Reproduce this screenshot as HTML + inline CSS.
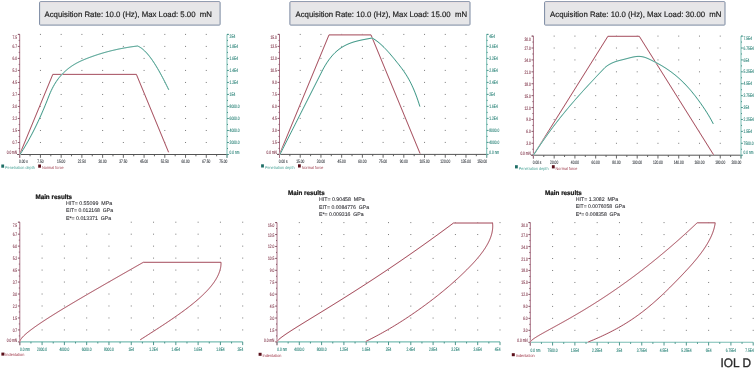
<!DOCTYPE html>
<html><head><meta charset="utf-8"><title>IOL D</title>
<style>html,body{margin:0;padding:0;background:#fff;width:755px;height:368px;overflow:hidden}svg{display:block}</style>
</head><body>
<svg width="755" height="368" viewBox="0 0 755 368" font-family="'Liberation Sans', sans-serif" text-rendering="geometricPrecision">
<rect width="755" height="368" fill="#ffffff"/>
<rect x="39.60" y="1.7" width="180.50" height="23.4" rx="0.8" fill="#e6e6e8" stroke="#7a88a0" stroke-width="1"/>
<line x1="40.60" y1="2.7" x2="219.10" y2="2.7" stroke="#f2e4e4" stroke-width="0.8"/>
<text x="44.50" y="17.00" font-size="7.9" fill="#222" textLength="167.50" lengthAdjust="spacingAndGlyphs" style="white-space:pre" stroke="#222" stroke-width="0.18">Acquisition Rate: 10.0 (Hz), Max Load: 5.00  mN</text>
<rect x="289.90" y="1.7" width="180.10" height="23.4" rx="0.8" fill="#e6e6e8" stroke="#7a88a0" stroke-width="1"/>
<line x1="290.90" y1="2.7" x2="469.00" y2="2.7" stroke="#f2e4e4" stroke-width="0.8"/>
<text x="295.50" y="17.00" font-size="7.9" fill="#222" textLength="171.60" lengthAdjust="spacingAndGlyphs" style="white-space:pre" stroke="#222" stroke-width="0.18">Acquisition Rate: 10.0 (Hz), Max Load: 15.00  mN</text>
<rect x="544.60" y="1.7" width="180.40" height="23.4" rx="0.8" fill="#e6e6e8" stroke="#7a88a0" stroke-width="1"/>
<line x1="545.60" y1="2.7" x2="724.00" y2="2.7" stroke="#f2e4e4" stroke-width="0.8"/>
<text x="550.10" y="17.00" font-size="7.9" fill="#222" textLength="171.40" lengthAdjust="spacingAndGlyphs" style="white-space:pre" stroke="#222" stroke-width="0.18">Acquisition Rate: 10.0 (Hz), Max Load: 30.00  mN</text>
<rect x="39.93" y="33.90" width="1" height="1" fill="#7a7a7a"/>
<rect x="39.93" y="45.91" width="1" height="1" fill="#7a7a7a"/>
<rect x="39.93" y="57.92" width="1" height="1" fill="#7a7a7a"/>
<rect x="39.93" y="69.93" width="1" height="1" fill="#7a7a7a"/>
<rect x="39.93" y="81.94" width="1" height="1" fill="#7a7a7a"/>
<rect x="39.93" y="93.95" width="1" height="1" fill="#7a7a7a"/>
<rect x="39.93" y="105.96" width="1" height="1" fill="#7a7a7a"/>
<rect x="39.93" y="117.97" width="1" height="1" fill="#7a7a7a"/>
<rect x="39.93" y="129.98" width="1" height="1" fill="#7a7a7a"/>
<rect x="39.93" y="141.99" width="1" height="1" fill="#7a7a7a"/>
<rect x="60.66" y="33.90" width="1" height="1" fill="#7a7a7a"/>
<rect x="60.66" y="45.91" width="1" height="1" fill="#7a7a7a"/>
<rect x="60.66" y="57.92" width="1" height="1" fill="#7a7a7a"/>
<rect x="60.66" y="69.93" width="1" height="1" fill="#7a7a7a"/>
<rect x="60.66" y="81.94" width="1" height="1" fill="#7a7a7a"/>
<rect x="60.66" y="93.95" width="1" height="1" fill="#7a7a7a"/>
<rect x="60.66" y="105.96" width="1" height="1" fill="#7a7a7a"/>
<rect x="60.66" y="117.97" width="1" height="1" fill="#7a7a7a"/>
<rect x="60.66" y="129.98" width="1" height="1" fill="#7a7a7a"/>
<rect x="60.66" y="141.99" width="1" height="1" fill="#7a7a7a"/>
<rect x="81.39" y="33.90" width="1" height="1" fill="#7a7a7a"/>
<rect x="81.39" y="45.91" width="1" height="1" fill="#7a7a7a"/>
<rect x="81.39" y="57.92" width="1" height="1" fill="#7a7a7a"/>
<rect x="81.39" y="69.93" width="1" height="1" fill="#7a7a7a"/>
<rect x="81.39" y="81.94" width="1" height="1" fill="#7a7a7a"/>
<rect x="81.39" y="93.95" width="1" height="1" fill="#7a7a7a"/>
<rect x="81.39" y="105.96" width="1" height="1" fill="#7a7a7a"/>
<rect x="81.39" y="117.97" width="1" height="1" fill="#7a7a7a"/>
<rect x="81.39" y="129.98" width="1" height="1" fill="#7a7a7a"/>
<rect x="81.39" y="141.99" width="1" height="1" fill="#7a7a7a"/>
<rect x="102.12" y="33.90" width="1" height="1" fill="#7a7a7a"/>
<rect x="102.12" y="45.91" width="1" height="1" fill="#7a7a7a"/>
<rect x="102.12" y="57.92" width="1" height="1" fill="#7a7a7a"/>
<rect x="102.12" y="69.93" width="1" height="1" fill="#7a7a7a"/>
<rect x="102.12" y="81.94" width="1" height="1" fill="#7a7a7a"/>
<rect x="102.12" y="93.95" width="1" height="1" fill="#7a7a7a"/>
<rect x="102.12" y="105.96" width="1" height="1" fill="#7a7a7a"/>
<rect x="102.12" y="117.97" width="1" height="1" fill="#7a7a7a"/>
<rect x="102.12" y="129.98" width="1" height="1" fill="#7a7a7a"/>
<rect x="102.12" y="141.99" width="1" height="1" fill="#7a7a7a"/>
<rect x="122.85" y="33.90" width="1" height="1" fill="#7a7a7a"/>
<rect x="122.85" y="45.91" width="1" height="1" fill="#7a7a7a"/>
<rect x="122.85" y="57.92" width="1" height="1" fill="#7a7a7a"/>
<rect x="122.85" y="69.93" width="1" height="1" fill="#7a7a7a"/>
<rect x="122.85" y="81.94" width="1" height="1" fill="#7a7a7a"/>
<rect x="122.85" y="93.95" width="1" height="1" fill="#7a7a7a"/>
<rect x="122.85" y="105.96" width="1" height="1" fill="#7a7a7a"/>
<rect x="122.85" y="117.97" width="1" height="1" fill="#7a7a7a"/>
<rect x="122.85" y="129.98" width="1" height="1" fill="#7a7a7a"/>
<rect x="122.85" y="141.99" width="1" height="1" fill="#7a7a7a"/>
<rect x="143.58" y="33.90" width="1" height="1" fill="#7a7a7a"/>
<rect x="143.58" y="45.91" width="1" height="1" fill="#7a7a7a"/>
<rect x="143.58" y="57.92" width="1" height="1" fill="#7a7a7a"/>
<rect x="143.58" y="69.93" width="1" height="1" fill="#7a7a7a"/>
<rect x="143.58" y="81.94" width="1" height="1" fill="#7a7a7a"/>
<rect x="143.58" y="93.95" width="1" height="1" fill="#7a7a7a"/>
<rect x="143.58" y="105.96" width="1" height="1" fill="#7a7a7a"/>
<rect x="143.58" y="117.97" width="1" height="1" fill="#7a7a7a"/>
<rect x="143.58" y="129.98" width="1" height="1" fill="#7a7a7a"/>
<rect x="143.58" y="141.99" width="1" height="1" fill="#7a7a7a"/>
<rect x="164.31" y="33.90" width="1" height="1" fill="#7a7a7a"/>
<rect x="164.31" y="45.91" width="1" height="1" fill="#7a7a7a"/>
<rect x="164.31" y="57.92" width="1" height="1" fill="#7a7a7a"/>
<rect x="164.31" y="69.93" width="1" height="1" fill="#7a7a7a"/>
<rect x="164.31" y="81.94" width="1" height="1" fill="#7a7a7a"/>
<rect x="164.31" y="93.95" width="1" height="1" fill="#7a7a7a"/>
<rect x="164.31" y="105.96" width="1" height="1" fill="#7a7a7a"/>
<rect x="164.31" y="117.97" width="1" height="1" fill="#7a7a7a"/>
<rect x="164.31" y="129.98" width="1" height="1" fill="#7a7a7a"/>
<rect x="164.31" y="141.99" width="1" height="1" fill="#7a7a7a"/>
<rect x="185.04" y="33.90" width="1" height="1" fill="#7a7a7a"/>
<rect x="185.04" y="45.91" width="1" height="1" fill="#7a7a7a"/>
<rect x="185.04" y="57.92" width="1" height="1" fill="#7a7a7a"/>
<rect x="185.04" y="69.93" width="1" height="1" fill="#7a7a7a"/>
<rect x="185.04" y="81.94" width="1" height="1" fill="#7a7a7a"/>
<rect x="185.04" y="93.95" width="1" height="1" fill="#7a7a7a"/>
<rect x="185.04" y="105.96" width="1" height="1" fill="#7a7a7a"/>
<rect x="185.04" y="117.97" width="1" height="1" fill="#7a7a7a"/>
<rect x="185.04" y="129.98" width="1" height="1" fill="#7a7a7a"/>
<rect x="185.04" y="141.99" width="1" height="1" fill="#7a7a7a"/>
<rect x="205.77" y="33.90" width="1" height="1" fill="#7a7a7a"/>
<rect x="205.77" y="45.91" width="1" height="1" fill="#7a7a7a"/>
<rect x="205.77" y="57.92" width="1" height="1" fill="#7a7a7a"/>
<rect x="205.77" y="69.93" width="1" height="1" fill="#7a7a7a"/>
<rect x="205.77" y="81.94" width="1" height="1" fill="#7a7a7a"/>
<rect x="205.77" y="93.95" width="1" height="1" fill="#7a7a7a"/>
<rect x="205.77" y="105.96" width="1" height="1" fill="#7a7a7a"/>
<rect x="205.77" y="117.97" width="1" height="1" fill="#7a7a7a"/>
<rect x="205.77" y="129.98" width="1" height="1" fill="#7a7a7a"/>
<rect x="205.77" y="141.99" width="1" height="1" fill="#7a7a7a"/>
<line x1="17.20" y1="154.50" x2="227.00" y2="154.50" stroke="#555555" stroke-width="1"/>
<line x1="19.70" y1="154.50" x2="19.70" y2="157.80" stroke="#555555" stroke-width="0.9"/>
<line x1="30.06" y1="154.50" x2="30.06" y2="156.30" stroke="#555555" stroke-width="0.9"/>
<line x1="40.43" y1="154.50" x2="40.43" y2="157.80" stroke="#555555" stroke-width="0.9"/>
<line x1="50.80" y1="154.50" x2="50.80" y2="156.30" stroke="#555555" stroke-width="0.9"/>
<line x1="61.16" y1="154.50" x2="61.16" y2="157.80" stroke="#555555" stroke-width="0.9"/>
<line x1="71.52" y1="154.50" x2="71.52" y2="156.30" stroke="#555555" stroke-width="0.9"/>
<line x1="81.89" y1="154.50" x2="81.89" y2="157.80" stroke="#555555" stroke-width="0.9"/>
<line x1="92.25" y1="154.50" x2="92.25" y2="156.30" stroke="#555555" stroke-width="0.9"/>
<line x1="102.62" y1="154.50" x2="102.62" y2="157.80" stroke="#555555" stroke-width="0.9"/>
<line x1="112.98" y1="154.50" x2="112.98" y2="156.30" stroke="#555555" stroke-width="0.9"/>
<line x1="123.35" y1="154.50" x2="123.35" y2="157.80" stroke="#555555" stroke-width="0.9"/>
<line x1="133.72" y1="154.50" x2="133.72" y2="156.30" stroke="#555555" stroke-width="0.9"/>
<line x1="144.08" y1="154.50" x2="144.08" y2="157.80" stroke="#555555" stroke-width="0.9"/>
<line x1="154.44" y1="154.50" x2="154.44" y2="156.30" stroke="#555555" stroke-width="0.9"/>
<line x1="164.81" y1="154.50" x2="164.81" y2="157.80" stroke="#555555" stroke-width="0.9"/>
<line x1="175.18" y1="154.50" x2="175.18" y2="156.30" stroke="#555555" stroke-width="0.9"/>
<line x1="185.54" y1="154.50" x2="185.54" y2="157.80" stroke="#555555" stroke-width="0.9"/>
<line x1="195.91" y1="154.50" x2="195.91" y2="156.30" stroke="#555555" stroke-width="0.9"/>
<line x1="206.27" y1="154.50" x2="206.27" y2="157.80" stroke="#555555" stroke-width="0.9"/>
<line x1="216.63" y1="154.50" x2="216.63" y2="156.30" stroke="#555555" stroke-width="0.9"/>
<line x1="227.00" y1="154.50" x2="227.00" y2="157.80" stroke="#555555" stroke-width="0.9"/>
<line x1="19.70" y1="34.40" x2="19.70" y2="157.80" stroke="#a86e82" stroke-width="1"/>
<line x1="18.20" y1="34.40" x2="19.70" y2="34.40" stroke="#a86e82" stroke-width="0.9"/>
<line x1="17.80" y1="34.40" x2="19.70" y2="34.40" stroke="#7a4a5a" stroke-width="0.9"/>
<line x1="18.70" y1="40.41" x2="19.70" y2="40.41" stroke="#7a4a5a" stroke-width="0.9"/>
<line x1="17.80" y1="46.41" x2="19.70" y2="46.41" stroke="#7a4a5a" stroke-width="0.9"/>
<line x1="18.70" y1="52.41" x2="19.70" y2="52.41" stroke="#7a4a5a" stroke-width="0.9"/>
<line x1="17.80" y1="58.42" x2="19.70" y2="58.42" stroke="#7a4a5a" stroke-width="0.9"/>
<line x1="18.70" y1="64.42" x2="19.70" y2="64.42" stroke="#7a4a5a" stroke-width="0.9"/>
<line x1="17.80" y1="70.43" x2="19.70" y2="70.43" stroke="#7a4a5a" stroke-width="0.9"/>
<line x1="18.70" y1="76.44" x2="19.70" y2="76.44" stroke="#7a4a5a" stroke-width="0.9"/>
<line x1="17.80" y1="82.44" x2="19.70" y2="82.44" stroke="#7a4a5a" stroke-width="0.9"/>
<line x1="18.70" y1="88.44" x2="19.70" y2="88.44" stroke="#7a4a5a" stroke-width="0.9"/>
<line x1="17.80" y1="94.45" x2="19.70" y2="94.45" stroke="#7a4a5a" stroke-width="0.9"/>
<line x1="18.70" y1="100.45" x2="19.70" y2="100.45" stroke="#7a4a5a" stroke-width="0.9"/>
<line x1="17.80" y1="106.46" x2="19.70" y2="106.46" stroke="#7a4a5a" stroke-width="0.9"/>
<line x1="18.70" y1="112.47" x2="19.70" y2="112.47" stroke="#7a4a5a" stroke-width="0.9"/>
<line x1="17.80" y1="118.47" x2="19.70" y2="118.47" stroke="#7a4a5a" stroke-width="0.9"/>
<line x1="18.70" y1="124.47" x2="19.70" y2="124.47" stroke="#7a4a5a" stroke-width="0.9"/>
<line x1="17.80" y1="130.48" x2="19.70" y2="130.48" stroke="#7a4a5a" stroke-width="0.9"/>
<line x1="18.70" y1="136.48" x2="19.70" y2="136.48" stroke="#7a4a5a" stroke-width="0.9"/>
<line x1="17.80" y1="142.49" x2="19.70" y2="142.49" stroke="#7a4a5a" stroke-width="0.9"/>
<line x1="18.70" y1="148.50" x2="19.70" y2="148.50" stroke="#7a4a5a" stroke-width="0.9"/>
<line x1="17.80" y1="154.50" x2="19.70" y2="154.50" stroke="#7a4a5a" stroke-width="0.9"/>
<line x1="227.00" y1="34.40" x2="227.00" y2="157.80" stroke="#78bdb3" stroke-width="1"/>
<line x1="227.00" y1="34.40" x2="228.50" y2="34.40" stroke="#78bdb3" stroke-width="0.9"/>
<line x1="227.00" y1="34.40" x2="228.90" y2="34.40" stroke="#3a8a80" stroke-width="0.9"/>
<line x1="227.00" y1="40.41" x2="228.00" y2="40.41" stroke="#3a8a80" stroke-width="0.9"/>
<line x1="227.00" y1="46.41" x2="228.90" y2="46.41" stroke="#3a8a80" stroke-width="0.9"/>
<line x1="227.00" y1="52.41" x2="228.00" y2="52.41" stroke="#3a8a80" stroke-width="0.9"/>
<line x1="227.00" y1="58.42" x2="228.90" y2="58.42" stroke="#3a8a80" stroke-width="0.9"/>
<line x1="227.00" y1="64.42" x2="228.00" y2="64.42" stroke="#3a8a80" stroke-width="0.9"/>
<line x1="227.00" y1="70.43" x2="228.90" y2="70.43" stroke="#3a8a80" stroke-width="0.9"/>
<line x1="227.00" y1="76.44" x2="228.00" y2="76.44" stroke="#3a8a80" stroke-width="0.9"/>
<line x1="227.00" y1="82.44" x2="228.90" y2="82.44" stroke="#3a8a80" stroke-width="0.9"/>
<line x1="227.00" y1="88.44" x2="228.00" y2="88.44" stroke="#3a8a80" stroke-width="0.9"/>
<line x1="227.00" y1="94.45" x2="228.90" y2="94.45" stroke="#3a8a80" stroke-width="0.9"/>
<line x1="227.00" y1="100.45" x2="228.00" y2="100.45" stroke="#3a8a80" stroke-width="0.9"/>
<line x1="227.00" y1="106.46" x2="228.90" y2="106.46" stroke="#3a8a80" stroke-width="0.9"/>
<line x1="227.00" y1="112.47" x2="228.00" y2="112.47" stroke="#3a8a80" stroke-width="0.9"/>
<line x1="227.00" y1="118.47" x2="228.90" y2="118.47" stroke="#3a8a80" stroke-width="0.9"/>
<line x1="227.00" y1="124.47" x2="228.00" y2="124.47" stroke="#3a8a80" stroke-width="0.9"/>
<line x1="227.00" y1="130.48" x2="228.90" y2="130.48" stroke="#3a8a80" stroke-width="0.9"/>
<line x1="227.00" y1="136.48" x2="228.00" y2="136.48" stroke="#3a8a80" stroke-width="0.9"/>
<line x1="227.00" y1="142.49" x2="228.90" y2="142.49" stroke="#3a8a80" stroke-width="0.9"/>
<line x1="227.00" y1="148.50" x2="228.00" y2="148.50" stroke="#3a8a80" stroke-width="0.9"/>
<line x1="227.00" y1="154.50" x2="228.90" y2="154.50" stroke="#3a8a80" stroke-width="0.9"/>
<text x="17.10" y="38.80" font-size="5.0" fill="#80354a" text-anchor="end" textLength="4.55" lengthAdjust="spacingAndGlyphs" stroke="#80354a" stroke-width="0.12">7.5</text>
<text x="17.10" y="48.41" font-size="5.0" fill="#80354a" text-anchor="end" textLength="4.55" lengthAdjust="spacingAndGlyphs" stroke="#80354a" stroke-width="0.12">6.7</text>
<text x="17.10" y="60.42" font-size="5.0" fill="#80354a" text-anchor="end" textLength="4.55" lengthAdjust="spacingAndGlyphs" stroke="#80354a" stroke-width="0.12">6.0</text>
<text x="17.10" y="72.43" font-size="5.0" fill="#80354a" text-anchor="end" textLength="4.55" lengthAdjust="spacingAndGlyphs" stroke="#80354a" stroke-width="0.12">5.2</text>
<text x="17.10" y="84.44" font-size="5.0" fill="#80354a" text-anchor="end" textLength="4.55" lengthAdjust="spacingAndGlyphs" stroke="#80354a" stroke-width="0.12">4.5</text>
<text x="17.10" y="96.45" font-size="5.0" fill="#80354a" text-anchor="end" textLength="4.55" lengthAdjust="spacingAndGlyphs" stroke="#80354a" stroke-width="0.12">3.7</text>
<text x="17.10" y="108.46" font-size="5.0" fill="#80354a" text-anchor="end" textLength="4.55" lengthAdjust="spacingAndGlyphs" stroke="#80354a" stroke-width="0.12">3.0</text>
<text x="17.10" y="120.47" font-size="5.0" fill="#80354a" text-anchor="end" textLength="4.55" lengthAdjust="spacingAndGlyphs" stroke="#80354a" stroke-width="0.12">2.2</text>
<text x="17.10" y="132.48" font-size="5.0" fill="#80354a" text-anchor="end" textLength="4.55" lengthAdjust="spacingAndGlyphs" stroke="#80354a" stroke-width="0.12">1.5</text>
<text x="17.10" y="144.49" font-size="5.0" fill="#80354a" text-anchor="end" textLength="4.55" lengthAdjust="spacingAndGlyphs" stroke="#80354a" stroke-width="0.12">0.7</text>
<text x="17.10" y="154.30" font-size="5.0" fill="#80354a" text-anchor="end" textLength="10.35" lengthAdjust="spacingAndGlyphs" stroke="#80354a" stroke-width="0.12">0.0 mN</text>
<text x="229.60" y="38.40" font-size="5.0" fill="#2a8378" textLength="5.70" lengthAdjust="spacingAndGlyphs" stroke="#2a8378" stroke-width="0.12">2E4</text>
<text x="229.60" y="48.01" font-size="5.0" fill="#2a8378" textLength="8.45" lengthAdjust="spacingAndGlyphs" stroke="#2a8378" stroke-width="0.12">1.8E4</text>
<text x="229.60" y="60.02" font-size="5.0" fill="#2a8378" textLength="8.45" lengthAdjust="spacingAndGlyphs" stroke="#2a8378" stroke-width="0.12">1.6E4</text>
<text x="229.60" y="72.03" font-size="5.0" fill="#2a8378" textLength="8.45" lengthAdjust="spacingAndGlyphs" stroke="#2a8378" stroke-width="0.12">1.4E4</text>
<text x="229.60" y="84.04" font-size="5.0" fill="#2a8378" textLength="8.45" lengthAdjust="spacingAndGlyphs" stroke="#2a8378" stroke-width="0.12">1.2E4</text>
<text x="229.60" y="96.05" font-size="5.0" fill="#2a8378" textLength="5.70" lengthAdjust="spacingAndGlyphs" stroke="#2a8378" stroke-width="0.12">1E4</text>
<text x="229.60" y="108.06" font-size="5.0" fill="#2a8378" textLength="9.95" lengthAdjust="spacingAndGlyphs" stroke="#2a8378" stroke-width="0.12">8000.0</text>
<text x="229.60" y="120.07" font-size="5.0" fill="#2a8378" textLength="9.95" lengthAdjust="spacingAndGlyphs" stroke="#2a8378" stroke-width="0.12">6000.0</text>
<text x="229.60" y="132.08" font-size="5.0" fill="#2a8378" textLength="9.95" lengthAdjust="spacingAndGlyphs" stroke="#2a8378" stroke-width="0.12">4000.0</text>
<text x="229.60" y="144.09" font-size="5.0" fill="#2a8378" textLength="9.95" lengthAdjust="spacingAndGlyphs" stroke="#2a8378" stroke-width="0.12">2000.0</text>
<text x="229.60" y="153.70" font-size="5.0" fill="#2a8378" textLength="9.85" lengthAdjust="spacingAndGlyphs" stroke="#2a8378" stroke-width="0.12">0.0 nm</text>
<text x="19.00" y="163.20" font-size="5.0" fill="#353a40" textLength="8.80" lengthAdjust="spacingAndGlyphs" stroke="#353a40" stroke-width="0.12">0.00 s</text>
<text x="40.43" y="163.20" font-size="5.0" fill="#353a40" text-anchor="middle" textLength="6.35" lengthAdjust="spacingAndGlyphs" stroke="#353a40" stroke-width="0.12">7.50</text>
<text x="61.16" y="163.20" font-size="5.0" fill="#353a40" text-anchor="middle" textLength="8.15" lengthAdjust="spacingAndGlyphs" stroke="#353a40" stroke-width="0.12">15.00</text>
<text x="81.89" y="163.20" font-size="5.0" fill="#353a40" text-anchor="middle" textLength="8.15" lengthAdjust="spacingAndGlyphs" stroke="#353a40" stroke-width="0.12">22.50</text>
<text x="102.62" y="163.20" font-size="5.0" fill="#353a40" text-anchor="middle" textLength="8.15" lengthAdjust="spacingAndGlyphs" stroke="#353a40" stroke-width="0.12">30.00</text>
<text x="123.35" y="163.20" font-size="5.0" fill="#353a40" text-anchor="middle" textLength="8.15" lengthAdjust="spacingAndGlyphs" stroke="#353a40" stroke-width="0.12">37.50</text>
<text x="144.08" y="163.20" font-size="5.0" fill="#353a40" text-anchor="middle" textLength="8.15" lengthAdjust="spacingAndGlyphs" stroke="#353a40" stroke-width="0.12">45.00</text>
<text x="164.81" y="163.20" font-size="5.0" fill="#353a40" text-anchor="middle" textLength="8.15" lengthAdjust="spacingAndGlyphs" stroke="#353a40" stroke-width="0.12">52.50</text>
<text x="185.54" y="163.20" font-size="5.0" fill="#353a40" text-anchor="middle" textLength="8.15" lengthAdjust="spacingAndGlyphs" stroke="#353a40" stroke-width="0.12">60.00</text>
<text x="206.27" y="163.20" font-size="5.0" fill="#353a40" text-anchor="middle" textLength="8.15" lengthAdjust="spacingAndGlyphs" stroke="#353a40" stroke-width="0.12">67.50</text>
<text x="227.40" y="163.20" font-size="5.0" fill="#353a40" text-anchor="end" textLength="8.15" lengthAdjust="spacingAndGlyphs" stroke="#353a40" stroke-width="0.12">75.00</text>
<polyline points="19.70,154.50 52.80,74.40 136.40,74.40 168.60,152.30" fill="none" stroke="#f6e6e9" stroke-width="1.25" stroke-linejoin="miter"/>
<polyline points="19.70,154.50 52.80,74.40 136.40,74.40 168.60,152.30" fill="none" stroke="#9e4454" stroke-width="0.9" stroke-linejoin="miter"/>
<path d="M20.00,154.40 L21.00,152.88 L22.00,151.32 L23.00,149.73 L24.00,148.11 L25.00,146.45 L26.00,144.76 L27.00,143.04 L28.00,141.28 L29.00,139.49 L30.00,137.66 L31.00,135.80 L32.00,133.90 L33.00,131.96 L34.00,129.99 L35.00,127.98 L36.00,125.93 L37.00,123.85 L38.00,121.72 L39.00,119.56 L40.00,117.37 L41.00,115.13 L42.00,112.85 L43.00,110.53 L44.00,108.18 L45.00,105.78 L46.00,103.34 L47.00,100.86 L48.00,98.34 L49.00,95.78 L49.30,95.00 L50.30,92.64 L51.30,90.43 L52.30,88.38 L53.30,86.47 L54.30,84.70 L55.30,83.04 L56.30,81.50 L57.30,80.06 L58.30,78.71 L59.30,77.45 L60.30,76.26 L61.30,75.14 L62.30,74.07 L63.30,73.05 L64.30,72.07 L65.30,71.14 L66.30,70.25 L67.30,69.40 L68.30,68.59 L69.30,67.81 L70.30,67.08 L71.30,66.37 L72.30,65.70 L73.30,65.05 L74.30,64.44 L75.30,63.85 L76.30,63.29 L77.30,62.75 L78.30,62.24 L79.30,61.74 L80.30,61.26 L81.30,60.80 L82.30,60.36 L83.30,59.93 L84.30,59.51 L85.30,59.10 L86.30,58.70 L87.30,58.31 L88.30,57.92 L89.30,57.54 L90.30,57.17 L91.30,56.80 L92.30,56.44 L93.30,56.09 L94.30,55.74 L95.30,55.40 L96.30,55.06 L97.30,54.73 L98.30,54.41 L99.30,54.09 L100.30,53.78 L101.30,53.47 L102.30,53.18 L103.30,52.88 L104.30,52.59 L105.30,52.31 L106.30,52.03 L107.30,51.76 L108.30,51.50 L109.30,51.24 L110.30,50.98 L111.30,50.74 L112.30,50.49 L113.30,50.26 L114.30,50.02 L115.30,49.80 L116.30,49.57 L117.30,49.36 L118.30,49.14 L119.30,48.94 L120.30,48.74 L121.30,48.54 L122.30,48.35 L123.30,48.16 L124.30,47.98 L125.30,47.80 L126.30,47.63 L127.30,47.46 L128.30,47.30 L129.30,47.14 L130.30,46.99 L131.30,46.84 L132.30,46.69 L133.30,46.55 L134.30,46.42 L135.30,46.29 L136.30,46.16 L137.30,46.04 L137.60,46.00 L138.60,46.46 L139.60,46.99 L140.60,47.61 L141.60,48.31 L142.60,49.09 L143.60,49.94 L144.60,50.86 L145.60,51.86 L146.60,52.92 L147.60,54.05 L148.60,55.24 L149.60,56.50 L150.60,57.81 L151.60,59.19 L152.60,60.62 L153.60,62.10 L154.60,63.64 L155.60,65.23 L156.60,66.86 L157.60,68.54 L158.60,70.27 L159.60,72.03 L160.60,73.84 L161.60,75.69 L162.60,77.57 L163.60,79.48 L164.60,81.43 L165.60,83.40 L166.60,85.41 L167.60,87.43 L168.60,89.49 L168.80,89.90" fill="none" stroke="#dcf0ec" stroke-width="1.25" stroke-linejoin="round"/>
<path d="M20.00,154.40 L21.00,152.88 L22.00,151.32 L23.00,149.73 L24.00,148.11 L25.00,146.45 L26.00,144.76 L27.00,143.04 L28.00,141.28 L29.00,139.49 L30.00,137.66 L31.00,135.80 L32.00,133.90 L33.00,131.96 L34.00,129.99 L35.00,127.98 L36.00,125.93 L37.00,123.85 L38.00,121.72 L39.00,119.56 L40.00,117.37 L41.00,115.13 L42.00,112.85 L43.00,110.53 L44.00,108.18 L45.00,105.78 L46.00,103.34 L47.00,100.86 L48.00,98.34 L49.00,95.78 L49.30,95.00 L50.30,92.64 L51.30,90.43 L52.30,88.38 L53.30,86.47 L54.30,84.70 L55.30,83.04 L56.30,81.50 L57.30,80.06 L58.30,78.71 L59.30,77.45 L60.30,76.26 L61.30,75.14 L62.30,74.07 L63.30,73.05 L64.30,72.07 L65.30,71.14 L66.30,70.25 L67.30,69.40 L68.30,68.59 L69.30,67.81 L70.30,67.08 L71.30,66.37 L72.30,65.70 L73.30,65.05 L74.30,64.44 L75.30,63.85 L76.30,63.29 L77.30,62.75 L78.30,62.24 L79.30,61.74 L80.30,61.26 L81.30,60.80 L82.30,60.36 L83.30,59.93 L84.30,59.51 L85.30,59.10 L86.30,58.70 L87.30,58.31 L88.30,57.92 L89.30,57.54 L90.30,57.17 L91.30,56.80 L92.30,56.44 L93.30,56.09 L94.30,55.74 L95.30,55.40 L96.30,55.06 L97.30,54.73 L98.30,54.41 L99.30,54.09 L100.30,53.78 L101.30,53.47 L102.30,53.18 L103.30,52.88 L104.30,52.59 L105.30,52.31 L106.30,52.03 L107.30,51.76 L108.30,51.50 L109.30,51.24 L110.30,50.98 L111.30,50.74 L112.30,50.49 L113.30,50.26 L114.30,50.02 L115.30,49.80 L116.30,49.57 L117.30,49.36 L118.30,49.14 L119.30,48.94 L120.30,48.74 L121.30,48.54 L122.30,48.35 L123.30,48.16 L124.30,47.98 L125.30,47.80 L126.30,47.63 L127.30,47.46 L128.30,47.30 L129.30,47.14 L130.30,46.99 L131.30,46.84 L132.30,46.69 L133.30,46.55 L134.30,46.42 L135.30,46.29 L136.30,46.16 L137.30,46.04 L137.60,46.00 L138.60,46.46 L139.60,46.99 L140.60,47.61 L141.60,48.31 L142.60,49.09 L143.60,49.94 L144.60,50.86 L145.60,51.86 L146.60,52.92 L147.60,54.05 L148.60,55.24 L149.60,56.50 L150.60,57.81 L151.60,59.19 L152.60,60.62 L153.60,62.10 L154.60,63.64 L155.60,65.23 L156.60,66.86 L157.60,68.54 L158.60,70.27 L159.60,72.03 L160.60,73.84 L161.60,75.69 L162.60,77.57 L163.60,79.48 L164.60,81.43 L165.60,83.40 L166.60,85.41 L167.60,87.43 L168.60,89.49 L168.80,89.90" fill="none" stroke="#35907f" stroke-width="0.9" stroke-linejoin="round"/>
<rect x="1.30" y="164.50" width="2.8" height="3.2" fill="#1e6e66"/>
<text x="5.10" y="169.10" font-size="4.2" fill="#4aa498" textLength="29.70" lengthAdjust="spacingAndGlyphs">Penetration depth</text>
<rect x="38.20" y="164.50" width="2.8" height="3.2" fill="#5a0f1a"/>
<text x="41.90" y="169.10" font-size="4.2" fill="#a04050" textLength="21.80" lengthAdjust="spacingAndGlyphs">Normal force</text>
<rect x="299.72" y="33.90" width="1" height="1" fill="#7a7a7a"/>
<rect x="299.72" y="45.90" width="1" height="1" fill="#7a7a7a"/>
<rect x="299.72" y="57.90" width="1" height="1" fill="#7a7a7a"/>
<rect x="299.72" y="69.90" width="1" height="1" fill="#7a7a7a"/>
<rect x="299.72" y="81.90" width="1" height="1" fill="#7a7a7a"/>
<rect x="299.72" y="93.90" width="1" height="1" fill="#7a7a7a"/>
<rect x="299.72" y="105.90" width="1" height="1" fill="#7a7a7a"/>
<rect x="299.72" y="117.90" width="1" height="1" fill="#7a7a7a"/>
<rect x="299.72" y="129.90" width="1" height="1" fill="#7a7a7a"/>
<rect x="299.72" y="141.90" width="1" height="1" fill="#7a7a7a"/>
<rect x="320.44" y="33.90" width="1" height="1" fill="#7a7a7a"/>
<rect x="320.44" y="45.90" width="1" height="1" fill="#7a7a7a"/>
<rect x="320.44" y="57.90" width="1" height="1" fill="#7a7a7a"/>
<rect x="320.44" y="69.90" width="1" height="1" fill="#7a7a7a"/>
<rect x="320.44" y="81.90" width="1" height="1" fill="#7a7a7a"/>
<rect x="320.44" y="93.90" width="1" height="1" fill="#7a7a7a"/>
<rect x="320.44" y="105.90" width="1" height="1" fill="#7a7a7a"/>
<rect x="320.44" y="117.90" width="1" height="1" fill="#7a7a7a"/>
<rect x="320.44" y="129.90" width="1" height="1" fill="#7a7a7a"/>
<rect x="320.44" y="141.90" width="1" height="1" fill="#7a7a7a"/>
<rect x="341.16" y="33.90" width="1" height="1" fill="#7a7a7a"/>
<rect x="341.16" y="45.90" width="1" height="1" fill="#7a7a7a"/>
<rect x="341.16" y="57.90" width="1" height="1" fill="#7a7a7a"/>
<rect x="341.16" y="69.90" width="1" height="1" fill="#7a7a7a"/>
<rect x="341.16" y="81.90" width="1" height="1" fill="#7a7a7a"/>
<rect x="341.16" y="93.90" width="1" height="1" fill="#7a7a7a"/>
<rect x="341.16" y="105.90" width="1" height="1" fill="#7a7a7a"/>
<rect x="341.16" y="117.90" width="1" height="1" fill="#7a7a7a"/>
<rect x="341.16" y="129.90" width="1" height="1" fill="#7a7a7a"/>
<rect x="341.16" y="141.90" width="1" height="1" fill="#7a7a7a"/>
<rect x="361.88" y="33.90" width="1" height="1" fill="#7a7a7a"/>
<rect x="361.88" y="45.90" width="1" height="1" fill="#7a7a7a"/>
<rect x="361.88" y="57.90" width="1" height="1" fill="#7a7a7a"/>
<rect x="361.88" y="69.90" width="1" height="1" fill="#7a7a7a"/>
<rect x="361.88" y="81.90" width="1" height="1" fill="#7a7a7a"/>
<rect x="361.88" y="93.90" width="1" height="1" fill="#7a7a7a"/>
<rect x="361.88" y="105.90" width="1" height="1" fill="#7a7a7a"/>
<rect x="361.88" y="117.90" width="1" height="1" fill="#7a7a7a"/>
<rect x="361.88" y="129.90" width="1" height="1" fill="#7a7a7a"/>
<rect x="361.88" y="141.90" width="1" height="1" fill="#7a7a7a"/>
<rect x="382.60" y="33.90" width="1" height="1" fill="#7a7a7a"/>
<rect x="382.60" y="45.90" width="1" height="1" fill="#7a7a7a"/>
<rect x="382.60" y="57.90" width="1" height="1" fill="#7a7a7a"/>
<rect x="382.60" y="69.90" width="1" height="1" fill="#7a7a7a"/>
<rect x="382.60" y="81.90" width="1" height="1" fill="#7a7a7a"/>
<rect x="382.60" y="93.90" width="1" height="1" fill="#7a7a7a"/>
<rect x="382.60" y="105.90" width="1" height="1" fill="#7a7a7a"/>
<rect x="382.60" y="117.90" width="1" height="1" fill="#7a7a7a"/>
<rect x="382.60" y="129.90" width="1" height="1" fill="#7a7a7a"/>
<rect x="382.60" y="141.90" width="1" height="1" fill="#7a7a7a"/>
<rect x="403.32" y="33.90" width="1" height="1" fill="#7a7a7a"/>
<rect x="403.32" y="45.90" width="1" height="1" fill="#7a7a7a"/>
<rect x="403.32" y="57.90" width="1" height="1" fill="#7a7a7a"/>
<rect x="403.32" y="69.90" width="1" height="1" fill="#7a7a7a"/>
<rect x="403.32" y="81.90" width="1" height="1" fill="#7a7a7a"/>
<rect x="403.32" y="93.90" width="1" height="1" fill="#7a7a7a"/>
<rect x="403.32" y="105.90" width="1" height="1" fill="#7a7a7a"/>
<rect x="403.32" y="117.90" width="1" height="1" fill="#7a7a7a"/>
<rect x="403.32" y="129.90" width="1" height="1" fill="#7a7a7a"/>
<rect x="403.32" y="141.90" width="1" height="1" fill="#7a7a7a"/>
<rect x="424.04" y="33.90" width="1" height="1" fill="#7a7a7a"/>
<rect x="424.04" y="45.90" width="1" height="1" fill="#7a7a7a"/>
<rect x="424.04" y="57.90" width="1" height="1" fill="#7a7a7a"/>
<rect x="424.04" y="69.90" width="1" height="1" fill="#7a7a7a"/>
<rect x="424.04" y="81.90" width="1" height="1" fill="#7a7a7a"/>
<rect x="424.04" y="93.90" width="1" height="1" fill="#7a7a7a"/>
<rect x="424.04" y="105.90" width="1" height="1" fill="#7a7a7a"/>
<rect x="424.04" y="117.90" width="1" height="1" fill="#7a7a7a"/>
<rect x="424.04" y="129.90" width="1" height="1" fill="#7a7a7a"/>
<rect x="424.04" y="141.90" width="1" height="1" fill="#7a7a7a"/>
<rect x="444.76" y="33.90" width="1" height="1" fill="#7a7a7a"/>
<rect x="444.76" y="45.90" width="1" height="1" fill="#7a7a7a"/>
<rect x="444.76" y="57.90" width="1" height="1" fill="#7a7a7a"/>
<rect x="444.76" y="69.90" width="1" height="1" fill="#7a7a7a"/>
<rect x="444.76" y="81.90" width="1" height="1" fill="#7a7a7a"/>
<rect x="444.76" y="93.90" width="1" height="1" fill="#7a7a7a"/>
<rect x="444.76" y="105.90" width="1" height="1" fill="#7a7a7a"/>
<rect x="444.76" y="117.90" width="1" height="1" fill="#7a7a7a"/>
<rect x="444.76" y="129.90" width="1" height="1" fill="#7a7a7a"/>
<rect x="444.76" y="141.90" width="1" height="1" fill="#7a7a7a"/>
<rect x="465.48" y="33.90" width="1" height="1" fill="#7a7a7a"/>
<rect x="465.48" y="45.90" width="1" height="1" fill="#7a7a7a"/>
<rect x="465.48" y="57.90" width="1" height="1" fill="#7a7a7a"/>
<rect x="465.48" y="69.90" width="1" height="1" fill="#7a7a7a"/>
<rect x="465.48" y="81.90" width="1" height="1" fill="#7a7a7a"/>
<rect x="465.48" y="93.90" width="1" height="1" fill="#7a7a7a"/>
<rect x="465.48" y="105.90" width="1" height="1" fill="#7a7a7a"/>
<rect x="465.48" y="117.90" width="1" height="1" fill="#7a7a7a"/>
<rect x="465.48" y="129.90" width="1" height="1" fill="#7a7a7a"/>
<rect x="465.48" y="141.90" width="1" height="1" fill="#7a7a7a"/>
<line x1="277.00" y1="154.40" x2="486.70" y2="154.40" stroke="#555555" stroke-width="1"/>
<line x1="279.50" y1="154.40" x2="279.50" y2="157.70" stroke="#555555" stroke-width="0.9"/>
<line x1="289.86" y1="154.40" x2="289.86" y2="156.20" stroke="#555555" stroke-width="0.9"/>
<line x1="300.22" y1="154.40" x2="300.22" y2="157.70" stroke="#555555" stroke-width="0.9"/>
<line x1="310.58" y1="154.40" x2="310.58" y2="156.20" stroke="#555555" stroke-width="0.9"/>
<line x1="320.94" y1="154.40" x2="320.94" y2="157.70" stroke="#555555" stroke-width="0.9"/>
<line x1="331.30" y1="154.40" x2="331.30" y2="156.20" stroke="#555555" stroke-width="0.9"/>
<line x1="341.66" y1="154.40" x2="341.66" y2="157.70" stroke="#555555" stroke-width="0.9"/>
<line x1="352.02" y1="154.40" x2="352.02" y2="156.20" stroke="#555555" stroke-width="0.9"/>
<line x1="362.38" y1="154.40" x2="362.38" y2="157.70" stroke="#555555" stroke-width="0.9"/>
<line x1="372.74" y1="154.40" x2="372.74" y2="156.20" stroke="#555555" stroke-width="0.9"/>
<line x1="383.10" y1="154.40" x2="383.10" y2="157.70" stroke="#555555" stroke-width="0.9"/>
<line x1="393.46" y1="154.40" x2="393.46" y2="156.20" stroke="#555555" stroke-width="0.9"/>
<line x1="403.82" y1="154.40" x2="403.82" y2="157.70" stroke="#555555" stroke-width="0.9"/>
<line x1="414.18" y1="154.40" x2="414.18" y2="156.20" stroke="#555555" stroke-width="0.9"/>
<line x1="424.54" y1="154.40" x2="424.54" y2="157.70" stroke="#555555" stroke-width="0.9"/>
<line x1="434.90" y1="154.40" x2="434.90" y2="156.20" stroke="#555555" stroke-width="0.9"/>
<line x1="445.26" y1="154.40" x2="445.26" y2="157.70" stroke="#555555" stroke-width="0.9"/>
<line x1="455.62" y1="154.40" x2="455.62" y2="156.20" stroke="#555555" stroke-width="0.9"/>
<line x1="465.98" y1="154.40" x2="465.98" y2="157.70" stroke="#555555" stroke-width="0.9"/>
<line x1="476.34" y1="154.40" x2="476.34" y2="156.20" stroke="#555555" stroke-width="0.9"/>
<line x1="486.70" y1="154.40" x2="486.70" y2="157.70" stroke="#555555" stroke-width="0.9"/>
<line x1="279.50" y1="34.40" x2="279.50" y2="157.70" stroke="#a86e82" stroke-width="1"/>
<line x1="278.00" y1="34.40" x2="279.50" y2="34.40" stroke="#a86e82" stroke-width="0.9"/>
<line x1="277.60" y1="34.40" x2="279.50" y2="34.40" stroke="#7a4a5a" stroke-width="0.9"/>
<line x1="278.50" y1="40.40" x2="279.50" y2="40.40" stroke="#7a4a5a" stroke-width="0.9"/>
<line x1="277.60" y1="46.40" x2="279.50" y2="46.40" stroke="#7a4a5a" stroke-width="0.9"/>
<line x1="278.50" y1="52.40" x2="279.50" y2="52.40" stroke="#7a4a5a" stroke-width="0.9"/>
<line x1="277.60" y1="58.40" x2="279.50" y2="58.40" stroke="#7a4a5a" stroke-width="0.9"/>
<line x1="278.50" y1="64.40" x2="279.50" y2="64.40" stroke="#7a4a5a" stroke-width="0.9"/>
<line x1="277.60" y1="70.40" x2="279.50" y2="70.40" stroke="#7a4a5a" stroke-width="0.9"/>
<line x1="278.50" y1="76.40" x2="279.50" y2="76.40" stroke="#7a4a5a" stroke-width="0.9"/>
<line x1="277.60" y1="82.40" x2="279.50" y2="82.40" stroke="#7a4a5a" stroke-width="0.9"/>
<line x1="278.50" y1="88.40" x2="279.50" y2="88.40" stroke="#7a4a5a" stroke-width="0.9"/>
<line x1="277.60" y1="94.40" x2="279.50" y2="94.40" stroke="#7a4a5a" stroke-width="0.9"/>
<line x1="278.50" y1="100.40" x2="279.50" y2="100.40" stroke="#7a4a5a" stroke-width="0.9"/>
<line x1="277.60" y1="106.40" x2="279.50" y2="106.40" stroke="#7a4a5a" stroke-width="0.9"/>
<line x1="278.50" y1="112.40" x2="279.50" y2="112.40" stroke="#7a4a5a" stroke-width="0.9"/>
<line x1="277.60" y1="118.40" x2="279.50" y2="118.40" stroke="#7a4a5a" stroke-width="0.9"/>
<line x1="278.50" y1="124.40" x2="279.50" y2="124.40" stroke="#7a4a5a" stroke-width="0.9"/>
<line x1="277.60" y1="130.40" x2="279.50" y2="130.40" stroke="#7a4a5a" stroke-width="0.9"/>
<line x1="278.50" y1="136.40" x2="279.50" y2="136.40" stroke="#7a4a5a" stroke-width="0.9"/>
<line x1="277.60" y1="142.40" x2="279.50" y2="142.40" stroke="#7a4a5a" stroke-width="0.9"/>
<line x1="278.50" y1="148.40" x2="279.50" y2="148.40" stroke="#7a4a5a" stroke-width="0.9"/>
<line x1="277.60" y1="154.40" x2="279.50" y2="154.40" stroke="#7a4a5a" stroke-width="0.9"/>
<line x1="486.70" y1="34.40" x2="486.70" y2="157.70" stroke="#78bdb3" stroke-width="1"/>
<line x1="486.70" y1="34.40" x2="488.20" y2="34.40" stroke="#78bdb3" stroke-width="0.9"/>
<line x1="486.70" y1="34.40" x2="488.60" y2="34.40" stroke="#3a8a80" stroke-width="0.9"/>
<line x1="486.70" y1="40.40" x2="487.70" y2="40.40" stroke="#3a8a80" stroke-width="0.9"/>
<line x1="486.70" y1="46.40" x2="488.60" y2="46.40" stroke="#3a8a80" stroke-width="0.9"/>
<line x1="486.70" y1="52.40" x2="487.70" y2="52.40" stroke="#3a8a80" stroke-width="0.9"/>
<line x1="486.70" y1="58.40" x2="488.60" y2="58.40" stroke="#3a8a80" stroke-width="0.9"/>
<line x1="486.70" y1="64.40" x2="487.70" y2="64.40" stroke="#3a8a80" stroke-width="0.9"/>
<line x1="486.70" y1="70.40" x2="488.60" y2="70.40" stroke="#3a8a80" stroke-width="0.9"/>
<line x1="486.70" y1="76.40" x2="487.70" y2="76.40" stroke="#3a8a80" stroke-width="0.9"/>
<line x1="486.70" y1="82.40" x2="488.60" y2="82.40" stroke="#3a8a80" stroke-width="0.9"/>
<line x1="486.70" y1="88.40" x2="487.70" y2="88.40" stroke="#3a8a80" stroke-width="0.9"/>
<line x1="486.70" y1="94.40" x2="488.60" y2="94.40" stroke="#3a8a80" stroke-width="0.9"/>
<line x1="486.70" y1="100.40" x2="487.70" y2="100.40" stroke="#3a8a80" stroke-width="0.9"/>
<line x1="486.70" y1="106.40" x2="488.60" y2="106.40" stroke="#3a8a80" stroke-width="0.9"/>
<line x1="486.70" y1="112.40" x2="487.70" y2="112.40" stroke="#3a8a80" stroke-width="0.9"/>
<line x1="486.70" y1="118.40" x2="488.60" y2="118.40" stroke="#3a8a80" stroke-width="0.9"/>
<line x1="486.70" y1="124.40" x2="487.70" y2="124.40" stroke="#3a8a80" stroke-width="0.9"/>
<line x1="486.70" y1="130.40" x2="488.60" y2="130.40" stroke="#3a8a80" stroke-width="0.9"/>
<line x1="486.70" y1="136.40" x2="487.70" y2="136.40" stroke="#3a8a80" stroke-width="0.9"/>
<line x1="486.70" y1="142.40" x2="488.60" y2="142.40" stroke="#3a8a80" stroke-width="0.9"/>
<line x1="486.70" y1="148.40" x2="487.70" y2="148.40" stroke="#3a8a80" stroke-width="0.9"/>
<line x1="486.70" y1="154.40" x2="488.60" y2="154.40" stroke="#3a8a80" stroke-width="0.9"/>
<text x="276.90" y="38.80" font-size="5.0" fill="#80354a" text-anchor="end" textLength="6.35" lengthAdjust="spacingAndGlyphs" stroke="#80354a" stroke-width="0.12">15.0</text>
<text x="276.90" y="48.40" font-size="5.0" fill="#80354a" text-anchor="end" textLength="6.35" lengthAdjust="spacingAndGlyphs" stroke="#80354a" stroke-width="0.12">13.5</text>
<text x="276.90" y="60.40" font-size="5.0" fill="#80354a" text-anchor="end" textLength="6.35" lengthAdjust="spacingAndGlyphs" stroke="#80354a" stroke-width="0.12">12.0</text>
<text x="276.90" y="72.40" font-size="5.0" fill="#80354a" text-anchor="end" textLength="6.35" lengthAdjust="spacingAndGlyphs" stroke="#80354a" stroke-width="0.12">10.5</text>
<text x="276.90" y="84.40" font-size="5.0" fill="#80354a" text-anchor="end" textLength="4.55" lengthAdjust="spacingAndGlyphs" stroke="#80354a" stroke-width="0.12">9.0</text>
<text x="276.90" y="96.40" font-size="5.0" fill="#80354a" text-anchor="end" textLength="4.55" lengthAdjust="spacingAndGlyphs" stroke="#80354a" stroke-width="0.12">7.5</text>
<text x="276.90" y="108.40" font-size="5.0" fill="#80354a" text-anchor="end" textLength="4.55" lengthAdjust="spacingAndGlyphs" stroke="#80354a" stroke-width="0.12">6.0</text>
<text x="276.90" y="120.40" font-size="5.0" fill="#80354a" text-anchor="end" textLength="4.55" lengthAdjust="spacingAndGlyphs" stroke="#80354a" stroke-width="0.12">4.5</text>
<text x="276.90" y="132.40" font-size="5.0" fill="#80354a" text-anchor="end" textLength="4.55" lengthAdjust="spacingAndGlyphs" stroke="#80354a" stroke-width="0.12">3.0</text>
<text x="276.90" y="144.40" font-size="5.0" fill="#80354a" text-anchor="end" textLength="4.55" lengthAdjust="spacingAndGlyphs" stroke="#80354a" stroke-width="0.12">1.5</text>
<text x="276.90" y="154.20" font-size="5.0" fill="#80354a" text-anchor="end" textLength="10.35" lengthAdjust="spacingAndGlyphs" stroke="#80354a" stroke-width="0.12">0.0 mN</text>
<text x="489.30" y="38.40" font-size="5.0" fill="#2a8378" textLength="5.70" lengthAdjust="spacingAndGlyphs" stroke="#2a8378" stroke-width="0.12">4E4</text>
<text x="489.30" y="48.00" font-size="5.0" fill="#2a8378" textLength="8.45" lengthAdjust="spacingAndGlyphs" stroke="#2a8378" stroke-width="0.12">3.6E4</text>
<text x="489.30" y="60.00" font-size="5.0" fill="#2a8378" textLength="8.45" lengthAdjust="spacingAndGlyphs" stroke="#2a8378" stroke-width="0.12">3.2E4</text>
<text x="489.30" y="72.00" font-size="5.0" fill="#2a8378" textLength="8.45" lengthAdjust="spacingAndGlyphs" stroke="#2a8378" stroke-width="0.12">2.8E4</text>
<text x="489.30" y="84.00" font-size="5.0" fill="#2a8378" textLength="8.45" lengthAdjust="spacingAndGlyphs" stroke="#2a8378" stroke-width="0.12">2.4E4</text>
<text x="489.30" y="96.00" font-size="5.0" fill="#2a8378" textLength="5.70" lengthAdjust="spacingAndGlyphs" stroke="#2a8378" stroke-width="0.12">2E4</text>
<text x="489.30" y="108.00" font-size="5.0" fill="#2a8378" textLength="8.45" lengthAdjust="spacingAndGlyphs" stroke="#2a8378" stroke-width="0.12">1.6E4</text>
<text x="489.30" y="120.00" font-size="5.0" fill="#2a8378" textLength="8.45" lengthAdjust="spacingAndGlyphs" stroke="#2a8378" stroke-width="0.12">1.2E4</text>
<text x="489.30" y="132.00" font-size="5.0" fill="#2a8378" textLength="9.95" lengthAdjust="spacingAndGlyphs" stroke="#2a8378" stroke-width="0.12">8000.0</text>
<text x="489.30" y="144.00" font-size="5.0" fill="#2a8378" textLength="9.95" lengthAdjust="spacingAndGlyphs" stroke="#2a8378" stroke-width="0.12">4000.0</text>
<text x="489.30" y="153.60" font-size="5.0" fill="#2a8378" textLength="9.85" lengthAdjust="spacingAndGlyphs" stroke="#2a8378" stroke-width="0.12">0.0 nm</text>
<text x="278.80" y="163.10" font-size="5.0" fill="#353a40" textLength="8.80" lengthAdjust="spacingAndGlyphs" stroke="#353a40" stroke-width="0.12">0.00 s</text>
<text x="300.22" y="163.10" font-size="5.0" fill="#353a40" text-anchor="middle" textLength="8.15" lengthAdjust="spacingAndGlyphs" stroke="#353a40" stroke-width="0.12">15.00</text>
<text x="320.94" y="163.10" font-size="5.0" fill="#353a40" text-anchor="middle" textLength="8.15" lengthAdjust="spacingAndGlyphs" stroke="#353a40" stroke-width="0.12">30.00</text>
<text x="341.66" y="163.10" font-size="5.0" fill="#353a40" text-anchor="middle" textLength="8.15" lengthAdjust="spacingAndGlyphs" stroke="#353a40" stroke-width="0.12">45.00</text>
<text x="362.38" y="163.10" font-size="5.0" fill="#353a40" text-anchor="middle" textLength="8.15" lengthAdjust="spacingAndGlyphs" stroke="#353a40" stroke-width="0.12">60.00</text>
<text x="383.10" y="163.10" font-size="5.0" fill="#353a40" text-anchor="middle" textLength="8.15" lengthAdjust="spacingAndGlyphs" stroke="#353a40" stroke-width="0.12">75.00</text>
<text x="403.82" y="163.10" font-size="5.0" fill="#353a40" text-anchor="middle" textLength="8.15" lengthAdjust="spacingAndGlyphs" stroke="#353a40" stroke-width="0.12">90.00</text>
<text x="424.54" y="163.10" font-size="5.0" fill="#353a40" text-anchor="middle" textLength="9.95" lengthAdjust="spacingAndGlyphs" stroke="#353a40" stroke-width="0.12">105.00</text>
<text x="445.26" y="163.10" font-size="5.0" fill="#353a40" text-anchor="middle" textLength="9.95" lengthAdjust="spacingAndGlyphs" stroke="#353a40" stroke-width="0.12">120.00</text>
<text x="465.98" y="163.10" font-size="5.0" fill="#353a40" text-anchor="middle" textLength="9.95" lengthAdjust="spacingAndGlyphs" stroke="#353a40" stroke-width="0.12">135.00</text>
<text x="487.10" y="163.10" font-size="5.0" fill="#353a40" text-anchor="end" textLength="9.95" lengthAdjust="spacingAndGlyphs" stroke="#353a40" stroke-width="0.12">150.00</text>
<polyline points="279.50,154.40 329.00,34.90 371.00,34.90 420.10,153.60" fill="none" stroke="#f6e6e9" stroke-width="1.25" stroke-linejoin="miter"/>
<polyline points="279.50,154.40 329.00,34.90 371.00,34.90 420.10,153.60" fill="none" stroke="#9e4454" stroke-width="0.9" stroke-linejoin="miter"/>
<path d="M280.00,154.30 L281.00,152.32 L282.00,150.35 L283.00,148.37 L284.00,146.39 L285.00,144.42 L286.00,142.44 L287.00,140.46 L288.00,138.49 L289.00,136.51 L290.00,134.53 L291.00,132.56 L292.00,130.58 L293.00,128.60 L294.00,126.63 L295.00,124.65 L296.00,122.67 L297.00,120.70 L298.00,118.72 L299.00,116.74 L300.00,114.77 L301.00,112.79 L302.00,110.81 L303.00,108.83 L304.00,106.86 L305.00,104.88 L306.00,102.90 L307.00,100.93 L308.00,98.95 L309.00,96.97 L310.00,95.00 L311.00,93.02 L312.00,91.04 L313.00,89.07 L314.00,87.09 L315.00,85.11 L316.00,83.14 L317.00,81.16 L318.00,79.18 L319.00,77.21 L320.00,75.23 L321.00,73.25 L322.00,71.28 L323.00,69.30 L324.00,67.49 L325.00,65.76 L326.00,64.13 L327.00,62.57 L328.00,61.09 L329.00,59.69 L330.00,58.36 L331.00,57.10 L332.00,55.92 L333.00,54.79 L334.00,53.74 L335.00,52.74 L336.00,51.80 L337.00,50.91 L338.00,50.08 L339.00,49.30 L340.00,48.57 L341.00,47.88 L342.00,47.23 L343.00,46.62 L344.00,46.05 L345.00,45.52 L346.00,45.01 L347.00,44.54 L348.00,44.09 L349.00,43.67 L350.00,43.27 L351.00,42.90 L352.00,42.54 L353.00,42.21 L354.00,41.90 L355.00,41.61 L356.00,41.33 L357.00,41.07 L358.00,40.82 L359.00,40.58 L360.00,40.35 L361.00,40.14 L362.00,39.93 L363.00,39.73 L364.00,39.53 L365.00,39.34 L366.00,39.15 L367.00,38.97 L368.00,38.78 L369.00,38.59 L370.00,38.40 L371.00,38.20 L372.00,38.00 L373.00,38.54 L374.00,39.13 L375.00,39.77 L376.00,40.45 L377.00,41.18 L378.00,41.95 L379.00,42.77 L380.00,43.62 L381.00,44.50 L382.00,45.43 L383.00,46.38 L384.00,47.37 L385.00,48.39 L386.00,49.44 L387.00,50.51 L388.00,51.61 L389.00,52.73 L390.00,53.87 L391.00,55.04 L392.00,56.22 L393.00,57.41 L394.00,58.62 L395.00,59.85 L396.00,61.08 L397.00,62.32 L398.00,63.58 L399.00,64.84 L400.00,66.12 L401.00,67.42 L402.00,68.76 L403.00,70.13 L404.00,71.56 L405.00,73.04 L406.00,74.58 L407.00,76.19 L408.00,77.88 L409.00,79.66 L410.00,81.53 L411.00,83.49 L412.00,85.57 L413.00,87.76 L414.00,90.07 L415.00,92.51 L416.00,95.09 L417.00,97.81 L418.00,100.69 L419.00,103.73 L419.90,106.60" fill="none" stroke="#dcf0ec" stroke-width="1.25" stroke-linejoin="round"/>
<path d="M280.00,154.30 L281.00,152.32 L282.00,150.35 L283.00,148.37 L284.00,146.39 L285.00,144.42 L286.00,142.44 L287.00,140.46 L288.00,138.49 L289.00,136.51 L290.00,134.53 L291.00,132.56 L292.00,130.58 L293.00,128.60 L294.00,126.63 L295.00,124.65 L296.00,122.67 L297.00,120.70 L298.00,118.72 L299.00,116.74 L300.00,114.77 L301.00,112.79 L302.00,110.81 L303.00,108.83 L304.00,106.86 L305.00,104.88 L306.00,102.90 L307.00,100.93 L308.00,98.95 L309.00,96.97 L310.00,95.00 L311.00,93.02 L312.00,91.04 L313.00,89.07 L314.00,87.09 L315.00,85.11 L316.00,83.14 L317.00,81.16 L318.00,79.18 L319.00,77.21 L320.00,75.23 L321.00,73.25 L322.00,71.28 L323.00,69.30 L324.00,67.49 L325.00,65.76 L326.00,64.13 L327.00,62.57 L328.00,61.09 L329.00,59.69 L330.00,58.36 L331.00,57.10 L332.00,55.92 L333.00,54.79 L334.00,53.74 L335.00,52.74 L336.00,51.80 L337.00,50.91 L338.00,50.08 L339.00,49.30 L340.00,48.57 L341.00,47.88 L342.00,47.23 L343.00,46.62 L344.00,46.05 L345.00,45.52 L346.00,45.01 L347.00,44.54 L348.00,44.09 L349.00,43.67 L350.00,43.27 L351.00,42.90 L352.00,42.54 L353.00,42.21 L354.00,41.90 L355.00,41.61 L356.00,41.33 L357.00,41.07 L358.00,40.82 L359.00,40.58 L360.00,40.35 L361.00,40.14 L362.00,39.93 L363.00,39.73 L364.00,39.53 L365.00,39.34 L366.00,39.15 L367.00,38.97 L368.00,38.78 L369.00,38.59 L370.00,38.40 L371.00,38.20 L372.00,38.00 L373.00,38.54 L374.00,39.13 L375.00,39.77 L376.00,40.45 L377.00,41.18 L378.00,41.95 L379.00,42.77 L380.00,43.62 L381.00,44.50 L382.00,45.43 L383.00,46.38 L384.00,47.37 L385.00,48.39 L386.00,49.44 L387.00,50.51 L388.00,51.61 L389.00,52.73 L390.00,53.87 L391.00,55.04 L392.00,56.22 L393.00,57.41 L394.00,58.62 L395.00,59.85 L396.00,61.08 L397.00,62.32 L398.00,63.58 L399.00,64.84 L400.00,66.12 L401.00,67.42 L402.00,68.76 L403.00,70.13 L404.00,71.56 L405.00,73.04 L406.00,74.58 L407.00,76.19 L408.00,77.88 L409.00,79.66 L410.00,81.53 L411.00,83.49 L412.00,85.57 L413.00,87.76 L414.00,90.07 L415.00,92.51 L416.00,95.09 L417.00,97.81 L418.00,100.69 L419.00,103.73 L419.90,106.60" fill="none" stroke="#35907f" stroke-width="0.9" stroke-linejoin="round"/>
<rect x="261.10" y="164.30" width="2.8" height="3.2" fill="#1e6e66"/>
<text x="264.90" y="168.90" font-size="4.2" fill="#4aa498" textLength="29.70" lengthAdjust="spacingAndGlyphs">Penetration depth</text>
<rect x="298.00" y="164.30" width="2.8" height="3.2" fill="#5a0f1a"/>
<text x="301.70" y="168.90" font-size="4.2" fill="#a04050" textLength="21.80" lengthAdjust="spacingAndGlyphs">Normal force</text>
<rect x="553.66" y="35.60" width="1" height="1" fill="#7a7a7a"/>
<rect x="553.66" y="47.51" width="1" height="1" fill="#7a7a7a"/>
<rect x="553.66" y="59.42" width="1" height="1" fill="#7a7a7a"/>
<rect x="553.66" y="71.33" width="1" height="1" fill="#7a7a7a"/>
<rect x="553.66" y="83.24" width="1" height="1" fill="#7a7a7a"/>
<rect x="553.66" y="95.15" width="1" height="1" fill="#7a7a7a"/>
<rect x="553.66" y="107.06" width="1" height="1" fill="#7a7a7a"/>
<rect x="553.66" y="118.97" width="1" height="1" fill="#7a7a7a"/>
<rect x="553.66" y="130.88" width="1" height="1" fill="#7a7a7a"/>
<rect x="553.66" y="142.79" width="1" height="1" fill="#7a7a7a"/>
<rect x="574.42" y="35.60" width="1" height="1" fill="#7a7a7a"/>
<rect x="574.42" y="47.51" width="1" height="1" fill="#7a7a7a"/>
<rect x="574.42" y="59.42" width="1" height="1" fill="#7a7a7a"/>
<rect x="574.42" y="71.33" width="1" height="1" fill="#7a7a7a"/>
<rect x="574.42" y="83.24" width="1" height="1" fill="#7a7a7a"/>
<rect x="574.42" y="95.15" width="1" height="1" fill="#7a7a7a"/>
<rect x="574.42" y="107.06" width="1" height="1" fill="#7a7a7a"/>
<rect x="574.42" y="118.97" width="1" height="1" fill="#7a7a7a"/>
<rect x="574.42" y="130.88" width="1" height="1" fill="#7a7a7a"/>
<rect x="574.42" y="142.79" width="1" height="1" fill="#7a7a7a"/>
<rect x="595.18" y="35.60" width="1" height="1" fill="#7a7a7a"/>
<rect x="595.18" y="47.51" width="1" height="1" fill="#7a7a7a"/>
<rect x="595.18" y="59.42" width="1" height="1" fill="#7a7a7a"/>
<rect x="595.18" y="71.33" width="1" height="1" fill="#7a7a7a"/>
<rect x="595.18" y="83.24" width="1" height="1" fill="#7a7a7a"/>
<rect x="595.18" y="95.15" width="1" height="1" fill="#7a7a7a"/>
<rect x="595.18" y="107.06" width="1" height="1" fill="#7a7a7a"/>
<rect x="595.18" y="118.97" width="1" height="1" fill="#7a7a7a"/>
<rect x="595.18" y="130.88" width="1" height="1" fill="#7a7a7a"/>
<rect x="595.18" y="142.79" width="1" height="1" fill="#7a7a7a"/>
<rect x="615.94" y="35.60" width="1" height="1" fill="#7a7a7a"/>
<rect x="615.94" y="47.51" width="1" height="1" fill="#7a7a7a"/>
<rect x="615.94" y="59.42" width="1" height="1" fill="#7a7a7a"/>
<rect x="615.94" y="71.33" width="1" height="1" fill="#7a7a7a"/>
<rect x="615.94" y="83.24" width="1" height="1" fill="#7a7a7a"/>
<rect x="615.94" y="95.15" width="1" height="1" fill="#7a7a7a"/>
<rect x="615.94" y="107.06" width="1" height="1" fill="#7a7a7a"/>
<rect x="615.94" y="118.97" width="1" height="1" fill="#7a7a7a"/>
<rect x="615.94" y="130.88" width="1" height="1" fill="#7a7a7a"/>
<rect x="615.94" y="142.79" width="1" height="1" fill="#7a7a7a"/>
<rect x="636.70" y="35.60" width="1" height="1" fill="#7a7a7a"/>
<rect x="636.70" y="47.51" width="1" height="1" fill="#7a7a7a"/>
<rect x="636.70" y="59.42" width="1" height="1" fill="#7a7a7a"/>
<rect x="636.70" y="71.33" width="1" height="1" fill="#7a7a7a"/>
<rect x="636.70" y="83.24" width="1" height="1" fill="#7a7a7a"/>
<rect x="636.70" y="95.15" width="1" height="1" fill="#7a7a7a"/>
<rect x="636.70" y="107.06" width="1" height="1" fill="#7a7a7a"/>
<rect x="636.70" y="118.97" width="1" height="1" fill="#7a7a7a"/>
<rect x="636.70" y="130.88" width="1" height="1" fill="#7a7a7a"/>
<rect x="636.70" y="142.79" width="1" height="1" fill="#7a7a7a"/>
<rect x="657.46" y="35.60" width="1" height="1" fill="#7a7a7a"/>
<rect x="657.46" y="47.51" width="1" height="1" fill="#7a7a7a"/>
<rect x="657.46" y="59.42" width="1" height="1" fill="#7a7a7a"/>
<rect x="657.46" y="71.33" width="1" height="1" fill="#7a7a7a"/>
<rect x="657.46" y="83.24" width="1" height="1" fill="#7a7a7a"/>
<rect x="657.46" y="95.15" width="1" height="1" fill="#7a7a7a"/>
<rect x="657.46" y="107.06" width="1" height="1" fill="#7a7a7a"/>
<rect x="657.46" y="118.97" width="1" height="1" fill="#7a7a7a"/>
<rect x="657.46" y="130.88" width="1" height="1" fill="#7a7a7a"/>
<rect x="657.46" y="142.79" width="1" height="1" fill="#7a7a7a"/>
<rect x="678.22" y="35.60" width="1" height="1" fill="#7a7a7a"/>
<rect x="678.22" y="47.51" width="1" height="1" fill="#7a7a7a"/>
<rect x="678.22" y="59.42" width="1" height="1" fill="#7a7a7a"/>
<rect x="678.22" y="71.33" width="1" height="1" fill="#7a7a7a"/>
<rect x="678.22" y="83.24" width="1" height="1" fill="#7a7a7a"/>
<rect x="678.22" y="95.15" width="1" height="1" fill="#7a7a7a"/>
<rect x="678.22" y="107.06" width="1" height="1" fill="#7a7a7a"/>
<rect x="678.22" y="118.97" width="1" height="1" fill="#7a7a7a"/>
<rect x="678.22" y="130.88" width="1" height="1" fill="#7a7a7a"/>
<rect x="678.22" y="142.79" width="1" height="1" fill="#7a7a7a"/>
<rect x="698.98" y="35.60" width="1" height="1" fill="#7a7a7a"/>
<rect x="698.98" y="47.51" width="1" height="1" fill="#7a7a7a"/>
<rect x="698.98" y="59.42" width="1" height="1" fill="#7a7a7a"/>
<rect x="698.98" y="71.33" width="1" height="1" fill="#7a7a7a"/>
<rect x="698.98" y="83.24" width="1" height="1" fill="#7a7a7a"/>
<rect x="698.98" y="95.15" width="1" height="1" fill="#7a7a7a"/>
<rect x="698.98" y="107.06" width="1" height="1" fill="#7a7a7a"/>
<rect x="698.98" y="118.97" width="1" height="1" fill="#7a7a7a"/>
<rect x="698.98" y="130.88" width="1" height="1" fill="#7a7a7a"/>
<rect x="698.98" y="142.79" width="1" height="1" fill="#7a7a7a"/>
<rect x="719.74" y="35.60" width="1" height="1" fill="#7a7a7a"/>
<rect x="719.74" y="47.51" width="1" height="1" fill="#7a7a7a"/>
<rect x="719.74" y="59.42" width="1" height="1" fill="#7a7a7a"/>
<rect x="719.74" y="71.33" width="1" height="1" fill="#7a7a7a"/>
<rect x="719.74" y="83.24" width="1" height="1" fill="#7a7a7a"/>
<rect x="719.74" y="95.15" width="1" height="1" fill="#7a7a7a"/>
<rect x="719.74" y="107.06" width="1" height="1" fill="#7a7a7a"/>
<rect x="719.74" y="118.97" width="1" height="1" fill="#7a7a7a"/>
<rect x="719.74" y="130.88" width="1" height="1" fill="#7a7a7a"/>
<rect x="719.74" y="142.79" width="1" height="1" fill="#7a7a7a"/>
<line x1="530.90" y1="155.20" x2="741.00" y2="155.20" stroke="#555555" stroke-width="1"/>
<line x1="533.40" y1="155.20" x2="533.40" y2="158.50" stroke="#555555" stroke-width="0.9"/>
<line x1="543.78" y1="155.20" x2="543.78" y2="157.00" stroke="#555555" stroke-width="0.9"/>
<line x1="554.16" y1="155.20" x2="554.16" y2="158.50" stroke="#555555" stroke-width="0.9"/>
<line x1="564.54" y1="155.20" x2="564.54" y2="157.00" stroke="#555555" stroke-width="0.9"/>
<line x1="574.92" y1="155.20" x2="574.92" y2="158.50" stroke="#555555" stroke-width="0.9"/>
<line x1="585.30" y1="155.20" x2="585.30" y2="157.00" stroke="#555555" stroke-width="0.9"/>
<line x1="595.68" y1="155.20" x2="595.68" y2="158.50" stroke="#555555" stroke-width="0.9"/>
<line x1="606.06" y1="155.20" x2="606.06" y2="157.00" stroke="#555555" stroke-width="0.9"/>
<line x1="616.44" y1="155.20" x2="616.44" y2="158.50" stroke="#555555" stroke-width="0.9"/>
<line x1="626.82" y1="155.20" x2="626.82" y2="157.00" stroke="#555555" stroke-width="0.9"/>
<line x1="637.20" y1="155.20" x2="637.20" y2="158.50" stroke="#555555" stroke-width="0.9"/>
<line x1="647.58" y1="155.20" x2="647.58" y2="157.00" stroke="#555555" stroke-width="0.9"/>
<line x1="657.96" y1="155.20" x2="657.96" y2="158.50" stroke="#555555" stroke-width="0.9"/>
<line x1="668.34" y1="155.20" x2="668.34" y2="157.00" stroke="#555555" stroke-width="0.9"/>
<line x1="678.72" y1="155.20" x2="678.72" y2="158.50" stroke="#555555" stroke-width="0.9"/>
<line x1="689.10" y1="155.20" x2="689.10" y2="157.00" stroke="#555555" stroke-width="0.9"/>
<line x1="699.48" y1="155.20" x2="699.48" y2="158.50" stroke="#555555" stroke-width="0.9"/>
<line x1="709.86" y1="155.20" x2="709.86" y2="157.00" stroke="#555555" stroke-width="0.9"/>
<line x1="720.24" y1="155.20" x2="720.24" y2="158.50" stroke="#555555" stroke-width="0.9"/>
<line x1="730.62" y1="155.20" x2="730.62" y2="157.00" stroke="#555555" stroke-width="0.9"/>
<line x1="741.00" y1="155.20" x2="741.00" y2="158.50" stroke="#555555" stroke-width="0.9"/>
<line x1="533.40" y1="36.10" x2="533.40" y2="158.50" stroke="#a86e82" stroke-width="1"/>
<line x1="531.90" y1="36.10" x2="533.40" y2="36.10" stroke="#a86e82" stroke-width="0.9"/>
<line x1="531.50" y1="36.10" x2="533.40" y2="36.10" stroke="#7a4a5a" stroke-width="0.9"/>
<line x1="532.40" y1="42.05" x2="533.40" y2="42.05" stroke="#7a4a5a" stroke-width="0.9"/>
<line x1="531.50" y1="48.01" x2="533.40" y2="48.01" stroke="#7a4a5a" stroke-width="0.9"/>
<line x1="532.40" y1="53.97" x2="533.40" y2="53.97" stroke="#7a4a5a" stroke-width="0.9"/>
<line x1="531.50" y1="59.92" x2="533.40" y2="59.92" stroke="#7a4a5a" stroke-width="0.9"/>
<line x1="532.40" y1="65.88" x2="533.40" y2="65.88" stroke="#7a4a5a" stroke-width="0.9"/>
<line x1="531.50" y1="71.83" x2="533.40" y2="71.83" stroke="#7a4a5a" stroke-width="0.9"/>
<line x1="532.40" y1="77.79" x2="533.40" y2="77.79" stroke="#7a4a5a" stroke-width="0.9"/>
<line x1="531.50" y1="83.74" x2="533.40" y2="83.74" stroke="#7a4a5a" stroke-width="0.9"/>
<line x1="532.40" y1="89.70" x2="533.40" y2="89.70" stroke="#7a4a5a" stroke-width="0.9"/>
<line x1="531.50" y1="95.65" x2="533.40" y2="95.65" stroke="#7a4a5a" stroke-width="0.9"/>
<line x1="532.40" y1="101.61" x2="533.40" y2="101.61" stroke="#7a4a5a" stroke-width="0.9"/>
<line x1="531.50" y1="107.56" x2="533.40" y2="107.56" stroke="#7a4a5a" stroke-width="0.9"/>
<line x1="532.40" y1="113.52" x2="533.40" y2="113.52" stroke="#7a4a5a" stroke-width="0.9"/>
<line x1="531.50" y1="119.47" x2="533.40" y2="119.47" stroke="#7a4a5a" stroke-width="0.9"/>
<line x1="532.40" y1="125.42" x2="533.40" y2="125.42" stroke="#7a4a5a" stroke-width="0.9"/>
<line x1="531.50" y1="131.38" x2="533.40" y2="131.38" stroke="#7a4a5a" stroke-width="0.9"/>
<line x1="532.40" y1="137.34" x2="533.40" y2="137.34" stroke="#7a4a5a" stroke-width="0.9"/>
<line x1="531.50" y1="143.29" x2="533.40" y2="143.29" stroke="#7a4a5a" stroke-width="0.9"/>
<line x1="532.40" y1="149.25" x2="533.40" y2="149.25" stroke="#7a4a5a" stroke-width="0.9"/>
<line x1="531.50" y1="155.20" x2="533.40" y2="155.20" stroke="#7a4a5a" stroke-width="0.9"/>
<line x1="741.00" y1="36.10" x2="741.00" y2="158.50" stroke="#78bdb3" stroke-width="1"/>
<line x1="741.00" y1="36.10" x2="742.50" y2="36.10" stroke="#78bdb3" stroke-width="0.9"/>
<line x1="741.00" y1="36.10" x2="742.90" y2="36.10" stroke="#3a8a80" stroke-width="0.9"/>
<line x1="741.00" y1="42.05" x2="742.00" y2="42.05" stroke="#3a8a80" stroke-width="0.9"/>
<line x1="741.00" y1="48.01" x2="742.90" y2="48.01" stroke="#3a8a80" stroke-width="0.9"/>
<line x1="741.00" y1="53.97" x2="742.00" y2="53.97" stroke="#3a8a80" stroke-width="0.9"/>
<line x1="741.00" y1="59.92" x2="742.90" y2="59.92" stroke="#3a8a80" stroke-width="0.9"/>
<line x1="741.00" y1="65.88" x2="742.00" y2="65.88" stroke="#3a8a80" stroke-width="0.9"/>
<line x1="741.00" y1="71.83" x2="742.90" y2="71.83" stroke="#3a8a80" stroke-width="0.9"/>
<line x1="741.00" y1="77.79" x2="742.00" y2="77.79" stroke="#3a8a80" stroke-width="0.9"/>
<line x1="741.00" y1="83.74" x2="742.90" y2="83.74" stroke="#3a8a80" stroke-width="0.9"/>
<line x1="741.00" y1="89.70" x2="742.00" y2="89.70" stroke="#3a8a80" stroke-width="0.9"/>
<line x1="741.00" y1="95.65" x2="742.90" y2="95.65" stroke="#3a8a80" stroke-width="0.9"/>
<line x1="741.00" y1="101.61" x2="742.00" y2="101.61" stroke="#3a8a80" stroke-width="0.9"/>
<line x1="741.00" y1="107.56" x2="742.90" y2="107.56" stroke="#3a8a80" stroke-width="0.9"/>
<line x1="741.00" y1="113.52" x2="742.00" y2="113.52" stroke="#3a8a80" stroke-width="0.9"/>
<line x1="741.00" y1="119.47" x2="742.90" y2="119.47" stroke="#3a8a80" stroke-width="0.9"/>
<line x1="741.00" y1="125.42" x2="742.00" y2="125.42" stroke="#3a8a80" stroke-width="0.9"/>
<line x1="741.00" y1="131.38" x2="742.90" y2="131.38" stroke="#3a8a80" stroke-width="0.9"/>
<line x1="741.00" y1="137.34" x2="742.00" y2="137.34" stroke="#3a8a80" stroke-width="0.9"/>
<line x1="741.00" y1="143.29" x2="742.90" y2="143.29" stroke="#3a8a80" stroke-width="0.9"/>
<line x1="741.00" y1="149.25" x2="742.00" y2="149.25" stroke="#3a8a80" stroke-width="0.9"/>
<line x1="741.00" y1="155.20" x2="742.90" y2="155.20" stroke="#3a8a80" stroke-width="0.9"/>
<text x="530.80" y="40.50" font-size="5.0" fill="#80354a" text-anchor="end" textLength="6.35" lengthAdjust="spacingAndGlyphs" stroke="#80354a" stroke-width="0.12">30.0</text>
<text x="530.80" y="50.01" font-size="5.0" fill="#80354a" text-anchor="end" textLength="6.35" lengthAdjust="spacingAndGlyphs" stroke="#80354a" stroke-width="0.12">27.0</text>
<text x="530.80" y="61.92" font-size="5.0" fill="#80354a" text-anchor="end" textLength="6.35" lengthAdjust="spacingAndGlyphs" stroke="#80354a" stroke-width="0.12">24.0</text>
<text x="530.80" y="73.83" font-size="5.0" fill="#80354a" text-anchor="end" textLength="6.35" lengthAdjust="spacingAndGlyphs" stroke="#80354a" stroke-width="0.12">21.0</text>
<text x="530.80" y="85.74" font-size="5.0" fill="#80354a" text-anchor="end" textLength="6.35" lengthAdjust="spacingAndGlyphs" stroke="#80354a" stroke-width="0.12">18.0</text>
<text x="530.80" y="97.65" font-size="5.0" fill="#80354a" text-anchor="end" textLength="6.35" lengthAdjust="spacingAndGlyphs" stroke="#80354a" stroke-width="0.12">15.0</text>
<text x="530.80" y="109.56" font-size="5.0" fill="#80354a" text-anchor="end" textLength="6.35" lengthAdjust="spacingAndGlyphs" stroke="#80354a" stroke-width="0.12">12.0</text>
<text x="530.80" y="121.47" font-size="5.0" fill="#80354a" text-anchor="end" textLength="4.55" lengthAdjust="spacingAndGlyphs" stroke="#80354a" stroke-width="0.12">9.0</text>
<text x="530.80" y="133.38" font-size="5.0" fill="#80354a" text-anchor="end" textLength="4.55" lengthAdjust="spacingAndGlyphs" stroke="#80354a" stroke-width="0.12">6.0</text>
<text x="530.80" y="145.29" font-size="5.0" fill="#80354a" text-anchor="end" textLength="4.55" lengthAdjust="spacingAndGlyphs" stroke="#80354a" stroke-width="0.12">3.0</text>
<text x="530.80" y="155.00" font-size="5.0" fill="#80354a" text-anchor="end" textLength="10.35" lengthAdjust="spacingAndGlyphs" stroke="#80354a" stroke-width="0.12">0.0 mN</text>
<text x="743.60" y="40.10" font-size="5.0" fill="#2a8378" textLength="8.45" lengthAdjust="spacingAndGlyphs" stroke="#2a8378" stroke-width="0.12">7.5E4</text>
<text x="743.60" y="49.61" font-size="5.0" fill="#2a8378" textLength="10.25" lengthAdjust="spacingAndGlyphs" stroke="#2a8378" stroke-width="0.12">6.75E4</text>
<text x="743.60" y="61.52" font-size="5.0" fill="#2a8378" textLength="5.70" lengthAdjust="spacingAndGlyphs" stroke="#2a8378" stroke-width="0.12">6E4</text>
<text x="743.60" y="73.43" font-size="5.0" fill="#2a8378" textLength="10.25" lengthAdjust="spacingAndGlyphs" stroke="#2a8378" stroke-width="0.12">5.25E4</text>
<text x="743.60" y="85.34" font-size="5.0" fill="#2a8378" textLength="8.45" lengthAdjust="spacingAndGlyphs" stroke="#2a8378" stroke-width="0.12">4.5E4</text>
<text x="743.60" y="97.25" font-size="5.0" fill="#2a8378" textLength="10.25" lengthAdjust="spacingAndGlyphs" stroke="#2a8378" stroke-width="0.12">3.75E4</text>
<text x="743.60" y="109.16" font-size="5.0" fill="#2a8378" textLength="5.70" lengthAdjust="spacingAndGlyphs" stroke="#2a8378" stroke-width="0.12">3E4</text>
<text x="743.60" y="121.07" font-size="5.0" fill="#2a8378" textLength="10.25" lengthAdjust="spacingAndGlyphs" stroke="#2a8378" stroke-width="0.12">2.25E4</text>
<text x="743.60" y="132.98" font-size="5.0" fill="#2a8378" textLength="8.45" lengthAdjust="spacingAndGlyphs" stroke="#2a8378" stroke-width="0.12">1.5E4</text>
<text x="743.60" y="144.89" font-size="5.0" fill="#2a8378" textLength="9.95" lengthAdjust="spacingAndGlyphs" stroke="#2a8378" stroke-width="0.12">7500.0</text>
<text x="743.60" y="154.40" font-size="5.0" fill="#2a8378" textLength="9.85" lengthAdjust="spacingAndGlyphs" stroke="#2a8378" stroke-width="0.12">0.0 nm</text>
<text x="532.70" y="163.90" font-size="5.0" fill="#353a40" textLength="8.80" lengthAdjust="spacingAndGlyphs" stroke="#353a40" stroke-width="0.12">0.00 s</text>
<text x="554.16" y="163.90" font-size="5.0" fill="#353a40" text-anchor="middle" textLength="8.15" lengthAdjust="spacingAndGlyphs" stroke="#353a40" stroke-width="0.12">20.00</text>
<text x="574.92" y="163.90" font-size="5.0" fill="#353a40" text-anchor="middle" textLength="8.15" lengthAdjust="spacingAndGlyphs" stroke="#353a40" stroke-width="0.12">40.00</text>
<text x="595.68" y="163.90" font-size="5.0" fill="#353a40" text-anchor="middle" textLength="8.15" lengthAdjust="spacingAndGlyphs" stroke="#353a40" stroke-width="0.12">60.00</text>
<text x="616.44" y="163.90" font-size="5.0" fill="#353a40" text-anchor="middle" textLength="8.15" lengthAdjust="spacingAndGlyphs" stroke="#353a40" stroke-width="0.12">80.00</text>
<text x="637.20" y="163.90" font-size="5.0" fill="#353a40" text-anchor="middle" textLength="9.95" lengthAdjust="spacingAndGlyphs" stroke="#353a40" stroke-width="0.12">100.00</text>
<text x="657.96" y="163.90" font-size="5.0" fill="#353a40" text-anchor="middle" textLength="9.95" lengthAdjust="spacingAndGlyphs" stroke="#353a40" stroke-width="0.12">120.00</text>
<text x="678.72" y="163.90" font-size="5.0" fill="#353a40" text-anchor="middle" textLength="9.95" lengthAdjust="spacingAndGlyphs" stroke="#353a40" stroke-width="0.12">140.00</text>
<text x="699.48" y="163.90" font-size="5.0" fill="#353a40" text-anchor="middle" textLength="9.95" lengthAdjust="spacingAndGlyphs" stroke="#353a40" stroke-width="0.12">160.00</text>
<text x="720.24" y="163.90" font-size="5.0" fill="#353a40" text-anchor="middle" textLength="9.95" lengthAdjust="spacingAndGlyphs" stroke="#353a40" stroke-width="0.12">180.00</text>
<text x="741.40" y="163.90" font-size="5.0" fill="#353a40" text-anchor="end" textLength="9.95" lengthAdjust="spacingAndGlyphs" stroke="#353a40" stroke-width="0.12">200.00</text>
<polyline points="533.40,155.20 607.90,36.30 639.30,36.30 713.60,154.80" fill="none" stroke="#f6e6e9" stroke-width="1.25" stroke-linejoin="miter"/>
<polyline points="533.40,155.20 607.90,36.30 639.30,36.30 713.60,154.80" fill="none" stroke="#9e4454" stroke-width="0.9" stroke-linejoin="miter"/>
<path d="M533.60,155.00 L534.60,153.44 L535.60,151.90 L536.60,150.36 L537.60,148.85 L538.60,147.34 L539.60,145.85 L540.60,144.37 L541.60,142.90 L542.60,141.45 L543.60,140.01 L544.60,138.58 L545.60,137.16 L546.60,135.76 L547.60,134.37 L548.60,132.98 L549.60,131.61 L550.60,130.25 L551.60,128.90 L552.60,127.57 L553.60,126.24 L554.60,124.92 L555.60,123.61 L556.60,122.32 L557.60,121.03 L558.60,119.75 L559.60,118.48 L560.60,117.22 L561.60,115.97 L562.60,114.73 L563.60,113.50 L564.60,112.27 L565.60,111.05 L566.60,109.85 L567.60,108.64 L568.60,107.45 L569.60,106.26 L570.60,105.09 L571.60,103.91 L572.60,102.75 L573.60,101.59 L574.60,100.44 L575.60,99.29 L576.60,98.15 L577.60,97.02 L578.60,95.89 L579.60,94.77 L580.60,93.65 L581.60,92.54 L582.60,91.43 L583.60,90.33 L584.60,89.23 L585.60,88.13 L586.60,87.05 L587.60,85.96 L588.60,84.88 L589.60,83.80 L590.60,82.72 L591.60,81.65 L592.60,80.58 L593.60,79.52 L594.60,78.45 L595.60,77.39 L596.60,76.33 L597.60,75.27 L598.60,74.22 L599.60,73.17 L600.60,72.11 L601.60,71.06 L602.60,70.01 L603.60,68.96 L604.60,67.91 L604.90,67.60 L605.90,66.78 L606.90,66.02 L607.90,65.33 L608.90,64.70 L609.90,64.11 L610.90,63.58 L611.90,63.09 L612.90,62.65 L613.90,62.24 L614.90,61.86 L615.90,61.52 L616.90,61.20 L617.90,60.90 L618.90,60.63 L619.90,60.36 L620.90,60.11 L621.90,59.86 L622.90,59.61 L623.90,59.37 L624.90,59.11 L625.90,58.85 L626.90,58.58 L627.90,58.32 L628.90,58.05 L629.90,57.79 L630.90,57.54 L631.90,57.30 L632.90,57.08 L633.90,56.89 L634.90,56.72 L635.90,56.59 L636.90,56.49 L637.90,56.42 L638.90,56.41 L639.90,56.44 L640.90,56.52 L641.90,56.66 L642.90,56.85 L643.90,57.10 L644.90,57.40 L645.90,57.74 L646.90,58.13 L647.90,58.55 L648.90,59.01 L649.90,59.48 L650.90,59.96 L651.90,60.44 L652.90,60.94 L653.90,61.44 L654.90,61.95 L655.90,62.47 L656.90,63.00 L657.90,63.55 L658.90,64.10 L659.90,64.66 L660.90,65.24 L661.90,65.83 L662.90,66.43 L663.90,67.04 L664.90,67.67 L665.90,68.31 L666.90,68.97 L667.90,69.65 L668.90,70.34 L669.90,71.05 L670.90,71.77 L671.90,72.51 L672.90,73.27 L673.90,74.05 L674.90,74.85 L675.90,75.67 L676.90,76.50 L677.90,77.36 L678.90,78.24 L679.90,79.15 L680.90,80.07 L681.90,81.02 L682.90,81.99 L683.90,82.98 L684.90,84.00 L685.90,85.05 L686.90,86.12 L687.90,87.21 L688.90,88.33 L689.90,89.48 L690.90,90.65 L691.90,91.84 L692.90,93.06 L693.90,94.31 L694.90,95.57 L695.90,96.86 L696.90,98.18 L697.90,99.52 L698.90,100.88 L699.90,102.26 L700.90,103.67 L701.90,105.10 L702.90,106.55 L703.90,108.02 L704.90,109.52 L705.90,111.05 L706.90,112.62 L707.90,114.22 L708.90,115.88 L709.90,117.59 L710.90,119.36 L711.90,121.20 L712.90,123.11 L713.30,123.90" fill="none" stroke="#dcf0ec" stroke-width="1.25" stroke-linejoin="round"/>
<path d="M533.60,155.00 L534.60,153.44 L535.60,151.90 L536.60,150.36 L537.60,148.85 L538.60,147.34 L539.60,145.85 L540.60,144.37 L541.60,142.90 L542.60,141.45 L543.60,140.01 L544.60,138.58 L545.60,137.16 L546.60,135.76 L547.60,134.37 L548.60,132.98 L549.60,131.61 L550.60,130.25 L551.60,128.90 L552.60,127.57 L553.60,126.24 L554.60,124.92 L555.60,123.61 L556.60,122.32 L557.60,121.03 L558.60,119.75 L559.60,118.48 L560.60,117.22 L561.60,115.97 L562.60,114.73 L563.60,113.50 L564.60,112.27 L565.60,111.05 L566.60,109.85 L567.60,108.64 L568.60,107.45 L569.60,106.26 L570.60,105.09 L571.60,103.91 L572.60,102.75 L573.60,101.59 L574.60,100.44 L575.60,99.29 L576.60,98.15 L577.60,97.02 L578.60,95.89 L579.60,94.77 L580.60,93.65 L581.60,92.54 L582.60,91.43 L583.60,90.33 L584.60,89.23 L585.60,88.13 L586.60,87.05 L587.60,85.96 L588.60,84.88 L589.60,83.80 L590.60,82.72 L591.60,81.65 L592.60,80.58 L593.60,79.52 L594.60,78.45 L595.60,77.39 L596.60,76.33 L597.60,75.27 L598.60,74.22 L599.60,73.17 L600.60,72.11 L601.60,71.06 L602.60,70.01 L603.60,68.96 L604.60,67.91 L604.90,67.60 L605.90,66.78 L606.90,66.02 L607.90,65.33 L608.90,64.70 L609.90,64.11 L610.90,63.58 L611.90,63.09 L612.90,62.65 L613.90,62.24 L614.90,61.86 L615.90,61.52 L616.90,61.20 L617.90,60.90 L618.90,60.63 L619.90,60.36 L620.90,60.11 L621.90,59.86 L622.90,59.61 L623.90,59.37 L624.90,59.11 L625.90,58.85 L626.90,58.58 L627.90,58.32 L628.90,58.05 L629.90,57.79 L630.90,57.54 L631.90,57.30 L632.90,57.08 L633.90,56.89 L634.90,56.72 L635.90,56.59 L636.90,56.49 L637.90,56.42 L638.90,56.41 L639.90,56.44 L640.90,56.52 L641.90,56.66 L642.90,56.85 L643.90,57.10 L644.90,57.40 L645.90,57.74 L646.90,58.13 L647.90,58.55 L648.90,59.01 L649.90,59.48 L650.90,59.96 L651.90,60.44 L652.90,60.94 L653.90,61.44 L654.90,61.95 L655.90,62.47 L656.90,63.00 L657.90,63.55 L658.90,64.10 L659.90,64.66 L660.90,65.24 L661.90,65.83 L662.90,66.43 L663.90,67.04 L664.90,67.67 L665.90,68.31 L666.90,68.97 L667.90,69.65 L668.90,70.34 L669.90,71.05 L670.90,71.77 L671.90,72.51 L672.90,73.27 L673.90,74.05 L674.90,74.85 L675.90,75.67 L676.90,76.50 L677.90,77.36 L678.90,78.24 L679.90,79.15 L680.90,80.07 L681.90,81.02 L682.90,81.99 L683.90,82.98 L684.90,84.00 L685.90,85.05 L686.90,86.12 L687.90,87.21 L688.90,88.33 L689.90,89.48 L690.90,90.65 L691.90,91.84 L692.90,93.06 L693.90,94.31 L694.90,95.57 L695.90,96.86 L696.90,98.18 L697.90,99.52 L698.90,100.88 L699.90,102.26 L700.90,103.67 L701.90,105.10 L702.90,106.55 L703.90,108.02 L704.90,109.52 L705.90,111.05 L706.90,112.62 L707.90,114.22 L708.90,115.88 L709.90,117.59 L710.90,119.36 L711.90,121.20 L712.90,123.11 L713.30,123.90" fill="none" stroke="#35907f" stroke-width="0.9" stroke-linejoin="round"/>
<rect x="515.00" y="165.20" width="2.8" height="3.2" fill="#1e6e66"/>
<text x="518.80" y="169.80" font-size="4.2" fill="#4aa498" textLength="29.70" lengthAdjust="spacingAndGlyphs">Penetration depth</text>
<rect x="551.90" y="165.20" width="2.8" height="3.2" fill="#5a0f1a"/>
<text x="555.60" y="169.80" font-size="4.2" fill="#a04050" textLength="21.80" lengthAdjust="spacingAndGlyphs">Normal force</text>
<text x="35.40" y="198.90" font-size="6.5" fill="#111" textLength="36.70" lengthAdjust="spacingAndGlyphs" font-weight="bold" stroke="#111" stroke-width="0.22">Main results</text>
<text x="66.10" y="204.80" font-size="5.3" fill="#333338" textLength="46.10" lengthAdjust="spacingAndGlyphs" style="white-space:pre" stroke="#333338" stroke-width="0.1">HIT= 0.55099  MPa</text>
<text x="66.10" y="212.10" font-size="5.3" fill="#333338" textLength="46.90" lengthAdjust="spacingAndGlyphs" style="white-space:pre" stroke="#333338" stroke-width="0.1">EIT= 0.012168  GPa</text>
<text x="66.10" y="219.50" font-size="5.3" fill="#333338" textLength="45.10" lengthAdjust="spacingAndGlyphs" style="white-space:pre" stroke="#333338" stroke-width="0.1">E*= 0.013371  GPa</text>
<text x="288.00" y="195.00" font-size="6.5" fill="#111" textLength="36.70" lengthAdjust="spacingAndGlyphs" font-weight="bold" stroke="#111" stroke-width="0.22">Main results</text>
<text x="319.00" y="201.30" font-size="5.3" fill="#333338" textLength="45.60" lengthAdjust="spacingAndGlyphs" style="white-space:pre" stroke="#333338" stroke-width="0.1">HIT= 0.90458  MPa</text>
<text x="319.00" y="208.50" font-size="5.3" fill="#333338" textLength="50.00" lengthAdjust="spacingAndGlyphs" style="white-space:pre" stroke="#333338" stroke-width="0.1">EIT= 0.0084776  GPa</text>
<text x="319.00" y="215.60" font-size="5.3" fill="#333338" textLength="44.70" lengthAdjust="spacingAndGlyphs" style="white-space:pre" stroke="#333338" stroke-width="0.1">E*= 0.009316  GPa</text>
<text x="545.10" y="194.80" font-size="6.5" fill="#111" textLength="36.70" lengthAdjust="spacingAndGlyphs" font-weight="bold" stroke="#111" stroke-width="0.22">Main results</text>
<text x="575.80" y="201.00" font-size="5.3" fill="#333338" textLength="42.40" lengthAdjust="spacingAndGlyphs" style="white-space:pre" stroke="#333338" stroke-width="0.1">HIT= 1.3082  MPa</text>
<text x="575.80" y="208.20" font-size="5.3" fill="#333338" textLength="49.20" lengthAdjust="spacingAndGlyphs" style="white-space:pre" stroke="#333338" stroke-width="0.1">EIT= 0.0076058  GPa</text>
<text x="575.80" y="215.50" font-size="5.3" fill="#333338" textLength="44.00" lengthAdjust="spacingAndGlyphs" style="white-space:pre" stroke="#333338" stroke-width="0.1">E*= 0.008358  GPa</text>
<rect x="41.59" y="233.67" width="1" height="1" fill="#7a7a7a"/>
<rect x="41.59" y="245.64" width="1" height="1" fill="#7a7a7a"/>
<rect x="41.59" y="257.61" width="1" height="1" fill="#7a7a7a"/>
<rect x="41.59" y="269.58" width="1" height="1" fill="#7a7a7a"/>
<rect x="41.59" y="281.55" width="1" height="1" fill="#7a7a7a"/>
<rect x="41.59" y="293.52" width="1" height="1" fill="#7a7a7a"/>
<rect x="41.59" y="305.49" width="1" height="1" fill="#7a7a7a"/>
<rect x="41.59" y="317.46" width="1" height="1" fill="#7a7a7a"/>
<rect x="41.59" y="329.43" width="1" height="1" fill="#7a7a7a"/>
<rect x="63.88" y="233.67" width="1" height="1" fill="#7a7a7a"/>
<rect x="63.88" y="245.64" width="1" height="1" fill="#7a7a7a"/>
<rect x="63.88" y="257.61" width="1" height="1" fill="#7a7a7a"/>
<rect x="63.88" y="269.58" width="1" height="1" fill="#7a7a7a"/>
<rect x="63.88" y="281.55" width="1" height="1" fill="#7a7a7a"/>
<rect x="63.88" y="293.52" width="1" height="1" fill="#7a7a7a"/>
<rect x="63.88" y="305.49" width="1" height="1" fill="#7a7a7a"/>
<rect x="63.88" y="317.46" width="1" height="1" fill="#7a7a7a"/>
<rect x="63.88" y="329.43" width="1" height="1" fill="#7a7a7a"/>
<rect x="86.17" y="233.67" width="1" height="1" fill="#7a7a7a"/>
<rect x="86.17" y="245.64" width="1" height="1" fill="#7a7a7a"/>
<rect x="86.17" y="257.61" width="1" height="1" fill="#7a7a7a"/>
<rect x="86.17" y="269.58" width="1" height="1" fill="#7a7a7a"/>
<rect x="86.17" y="281.55" width="1" height="1" fill="#7a7a7a"/>
<rect x="86.17" y="293.52" width="1" height="1" fill="#7a7a7a"/>
<rect x="86.17" y="305.49" width="1" height="1" fill="#7a7a7a"/>
<rect x="86.17" y="317.46" width="1" height="1" fill="#7a7a7a"/>
<rect x="86.17" y="329.43" width="1" height="1" fill="#7a7a7a"/>
<rect x="108.46" y="233.67" width="1" height="1" fill="#7a7a7a"/>
<rect x="108.46" y="245.64" width="1" height="1" fill="#7a7a7a"/>
<rect x="108.46" y="257.61" width="1" height="1" fill="#7a7a7a"/>
<rect x="108.46" y="269.58" width="1" height="1" fill="#7a7a7a"/>
<rect x="108.46" y="281.55" width="1" height="1" fill="#7a7a7a"/>
<rect x="108.46" y="293.52" width="1" height="1" fill="#7a7a7a"/>
<rect x="108.46" y="305.49" width="1" height="1" fill="#7a7a7a"/>
<rect x="108.46" y="317.46" width="1" height="1" fill="#7a7a7a"/>
<rect x="108.46" y="329.43" width="1" height="1" fill="#7a7a7a"/>
<rect x="130.75" y="221.70" width="1" height="1" fill="#7a7a7a"/>
<rect x="130.75" y="233.67" width="1" height="1" fill="#7a7a7a"/>
<rect x="130.75" y="245.64" width="1" height="1" fill="#7a7a7a"/>
<rect x="130.75" y="257.61" width="1" height="1" fill="#7a7a7a"/>
<rect x="130.75" y="269.58" width="1" height="1" fill="#7a7a7a"/>
<rect x="130.75" y="281.55" width="1" height="1" fill="#7a7a7a"/>
<rect x="130.75" y="293.52" width="1" height="1" fill="#7a7a7a"/>
<rect x="130.75" y="305.49" width="1" height="1" fill="#7a7a7a"/>
<rect x="130.75" y="317.46" width="1" height="1" fill="#7a7a7a"/>
<rect x="130.75" y="329.43" width="1" height="1" fill="#7a7a7a"/>
<rect x="153.04" y="221.70" width="1" height="1" fill="#7a7a7a"/>
<rect x="153.04" y="233.67" width="1" height="1" fill="#7a7a7a"/>
<rect x="153.04" y="245.64" width="1" height="1" fill="#7a7a7a"/>
<rect x="153.04" y="257.61" width="1" height="1" fill="#7a7a7a"/>
<rect x="153.04" y="269.58" width="1" height="1" fill="#7a7a7a"/>
<rect x="153.04" y="281.55" width="1" height="1" fill="#7a7a7a"/>
<rect x="153.04" y="293.52" width="1" height="1" fill="#7a7a7a"/>
<rect x="153.04" y="305.49" width="1" height="1" fill="#7a7a7a"/>
<rect x="153.04" y="317.46" width="1" height="1" fill="#7a7a7a"/>
<rect x="153.04" y="329.43" width="1" height="1" fill="#7a7a7a"/>
<rect x="175.33" y="221.70" width="1" height="1" fill="#7a7a7a"/>
<rect x="175.33" y="233.67" width="1" height="1" fill="#7a7a7a"/>
<rect x="175.33" y="245.64" width="1" height="1" fill="#7a7a7a"/>
<rect x="175.33" y="257.61" width="1" height="1" fill="#7a7a7a"/>
<rect x="175.33" y="269.58" width="1" height="1" fill="#7a7a7a"/>
<rect x="175.33" y="281.55" width="1" height="1" fill="#7a7a7a"/>
<rect x="175.33" y="293.52" width="1" height="1" fill="#7a7a7a"/>
<rect x="175.33" y="305.49" width="1" height="1" fill="#7a7a7a"/>
<rect x="175.33" y="317.46" width="1" height="1" fill="#7a7a7a"/>
<rect x="175.33" y="329.43" width="1" height="1" fill="#7a7a7a"/>
<rect x="197.62" y="221.70" width="1" height="1" fill="#7a7a7a"/>
<rect x="197.62" y="233.67" width="1" height="1" fill="#7a7a7a"/>
<rect x="197.62" y="245.64" width="1" height="1" fill="#7a7a7a"/>
<rect x="197.62" y="257.61" width="1" height="1" fill="#7a7a7a"/>
<rect x="197.62" y="269.58" width="1" height="1" fill="#7a7a7a"/>
<rect x="197.62" y="281.55" width="1" height="1" fill="#7a7a7a"/>
<rect x="197.62" y="293.52" width="1" height="1" fill="#7a7a7a"/>
<rect x="197.62" y="305.49" width="1" height="1" fill="#7a7a7a"/>
<rect x="197.62" y="317.46" width="1" height="1" fill="#7a7a7a"/>
<rect x="197.62" y="329.43" width="1" height="1" fill="#7a7a7a"/>
<rect x="219.91" y="221.70" width="1" height="1" fill="#7a7a7a"/>
<rect x="219.91" y="233.67" width="1" height="1" fill="#7a7a7a"/>
<rect x="219.91" y="245.64" width="1" height="1" fill="#7a7a7a"/>
<rect x="219.91" y="257.61" width="1" height="1" fill="#7a7a7a"/>
<rect x="219.91" y="269.58" width="1" height="1" fill="#7a7a7a"/>
<rect x="219.91" y="281.55" width="1" height="1" fill="#7a7a7a"/>
<rect x="219.91" y="293.52" width="1" height="1" fill="#7a7a7a"/>
<rect x="219.91" y="305.49" width="1" height="1" fill="#7a7a7a"/>
<rect x="219.91" y="317.46" width="1" height="1" fill="#7a7a7a"/>
<rect x="219.91" y="329.43" width="1" height="1" fill="#7a7a7a"/>
<rect x="242.20" y="221.70" width="1" height="1" fill="#7a7a7a"/>
<rect x="242.20" y="233.67" width="1" height="1" fill="#7a7a7a"/>
<rect x="242.20" y="245.64" width="1" height="1" fill="#7a7a7a"/>
<rect x="242.20" y="257.61" width="1" height="1" fill="#7a7a7a"/>
<rect x="242.20" y="269.58" width="1" height="1" fill="#7a7a7a"/>
<rect x="242.20" y="281.55" width="1" height="1" fill="#7a7a7a"/>
<rect x="242.20" y="293.52" width="1" height="1" fill="#7a7a7a"/>
<rect x="242.20" y="305.49" width="1" height="1" fill="#7a7a7a"/>
<rect x="242.20" y="317.46" width="1" height="1" fill="#7a7a7a"/>
<rect x="242.20" y="329.43" width="1" height="1" fill="#7a7a7a"/>
<line x1="19.80" y1="341.90" x2="242.70" y2="341.90" stroke="#78bdb3" stroke-width="1.1"/>
<line x1="19.80" y1="341.90" x2="19.80" y2="345.10" stroke="#3a8a80" stroke-width="0.9"/>
<line x1="30.95" y1="341.90" x2="30.95" y2="343.50" stroke="#3a8a80" stroke-width="0.9"/>
<line x1="42.09" y1="341.90" x2="42.09" y2="345.10" stroke="#3a8a80" stroke-width="0.9"/>
<line x1="53.23" y1="341.90" x2="53.23" y2="343.50" stroke="#3a8a80" stroke-width="0.9"/>
<line x1="64.38" y1="341.90" x2="64.38" y2="345.10" stroke="#3a8a80" stroke-width="0.9"/>
<line x1="75.52" y1="341.90" x2="75.52" y2="343.50" stroke="#3a8a80" stroke-width="0.9"/>
<line x1="86.67" y1="341.90" x2="86.67" y2="345.10" stroke="#3a8a80" stroke-width="0.9"/>
<line x1="97.81" y1="341.90" x2="97.81" y2="343.50" stroke="#3a8a80" stroke-width="0.9"/>
<line x1="108.96" y1="341.90" x2="108.96" y2="345.10" stroke="#3a8a80" stroke-width="0.9"/>
<line x1="120.10" y1="341.90" x2="120.10" y2="343.50" stroke="#3a8a80" stroke-width="0.9"/>
<line x1="131.25" y1="341.90" x2="131.25" y2="345.10" stroke="#3a8a80" stroke-width="0.9"/>
<line x1="142.40" y1="341.90" x2="142.40" y2="343.50" stroke="#3a8a80" stroke-width="0.9"/>
<line x1="153.54" y1="341.90" x2="153.54" y2="345.10" stroke="#3a8a80" stroke-width="0.9"/>
<line x1="164.69" y1="341.90" x2="164.69" y2="343.50" stroke="#3a8a80" stroke-width="0.9"/>
<line x1="175.83" y1="341.90" x2="175.83" y2="345.10" stroke="#3a8a80" stroke-width="0.9"/>
<line x1="186.98" y1="341.90" x2="186.98" y2="343.50" stroke="#3a8a80" stroke-width="0.9"/>
<line x1="198.12" y1="341.90" x2="198.12" y2="345.10" stroke="#3a8a80" stroke-width="0.9"/>
<line x1="209.27" y1="341.90" x2="209.27" y2="343.50" stroke="#3a8a80" stroke-width="0.9"/>
<line x1="220.41" y1="341.90" x2="220.41" y2="345.10" stroke="#3a8a80" stroke-width="0.9"/>
<line x1="231.56" y1="341.90" x2="231.56" y2="343.50" stroke="#3a8a80" stroke-width="0.9"/>
<line x1="242.70" y1="341.90" x2="242.70" y2="345.10" stroke="#3a8a80" stroke-width="0.9"/>
<line x1="19.80" y1="222.20" x2="19.80" y2="345.30" stroke="#a86e82" stroke-width="1"/>
<line x1="18.30" y1="222.20" x2="19.80" y2="222.20" stroke="#a86e82" stroke-width="0.9"/>
<line x1="17.90" y1="222.20" x2="19.80" y2="222.20" stroke="#7a4a5a" stroke-width="0.9"/>
<line x1="18.80" y1="228.19" x2="19.80" y2="228.19" stroke="#7a4a5a" stroke-width="0.9"/>
<line x1="17.90" y1="234.17" x2="19.80" y2="234.17" stroke="#7a4a5a" stroke-width="0.9"/>
<line x1="18.80" y1="240.15" x2="19.80" y2="240.15" stroke="#7a4a5a" stroke-width="0.9"/>
<line x1="17.90" y1="246.14" x2="19.80" y2="246.14" stroke="#7a4a5a" stroke-width="0.9"/>
<line x1="18.80" y1="252.12" x2="19.80" y2="252.12" stroke="#7a4a5a" stroke-width="0.9"/>
<line x1="17.90" y1="258.11" x2="19.80" y2="258.11" stroke="#7a4a5a" stroke-width="0.9"/>
<line x1="18.80" y1="264.10" x2="19.80" y2="264.10" stroke="#7a4a5a" stroke-width="0.9"/>
<line x1="17.90" y1="270.08" x2="19.80" y2="270.08" stroke="#7a4a5a" stroke-width="0.9"/>
<line x1="18.80" y1="276.06" x2="19.80" y2="276.06" stroke="#7a4a5a" stroke-width="0.9"/>
<line x1="17.90" y1="282.05" x2="19.80" y2="282.05" stroke="#7a4a5a" stroke-width="0.9"/>
<line x1="18.80" y1="288.03" x2="19.80" y2="288.03" stroke="#7a4a5a" stroke-width="0.9"/>
<line x1="17.90" y1="294.02" x2="19.80" y2="294.02" stroke="#7a4a5a" stroke-width="0.9"/>
<line x1="18.80" y1="300.00" x2="19.80" y2="300.00" stroke="#7a4a5a" stroke-width="0.9"/>
<line x1="17.90" y1="305.99" x2="19.80" y2="305.99" stroke="#7a4a5a" stroke-width="0.9"/>
<line x1="18.80" y1="311.98" x2="19.80" y2="311.98" stroke="#7a4a5a" stroke-width="0.9"/>
<line x1="17.90" y1="317.96" x2="19.80" y2="317.96" stroke="#7a4a5a" stroke-width="0.9"/>
<line x1="18.80" y1="323.94" x2="19.80" y2="323.94" stroke="#7a4a5a" stroke-width="0.9"/>
<line x1="17.90" y1="329.93" x2="19.80" y2="329.93" stroke="#7a4a5a" stroke-width="0.9"/>
<line x1="18.80" y1="335.91" x2="19.80" y2="335.91" stroke="#7a4a5a" stroke-width="0.9"/>
<line x1="17.90" y1="341.90" x2="19.80" y2="341.90" stroke="#7a4a5a" stroke-width="0.9"/>
<text x="17.20" y="226.60" font-size="5.0" fill="#80354a" text-anchor="end" textLength="4.55" lengthAdjust="spacingAndGlyphs" stroke="#80354a" stroke-width="0.12">7.5</text>
<text x="17.20" y="236.17" font-size="5.0" fill="#80354a" text-anchor="end" textLength="4.55" lengthAdjust="spacingAndGlyphs" stroke="#80354a" stroke-width="0.12">6.7</text>
<text x="17.20" y="248.14" font-size="5.0" fill="#80354a" text-anchor="end" textLength="4.55" lengthAdjust="spacingAndGlyphs" stroke="#80354a" stroke-width="0.12">6.0</text>
<text x="17.20" y="260.11" font-size="5.0" fill="#80354a" text-anchor="end" textLength="4.55" lengthAdjust="spacingAndGlyphs" stroke="#80354a" stroke-width="0.12">5.2</text>
<text x="17.20" y="272.08" font-size="5.0" fill="#80354a" text-anchor="end" textLength="4.55" lengthAdjust="spacingAndGlyphs" stroke="#80354a" stroke-width="0.12">4.5</text>
<text x="17.20" y="284.05" font-size="5.0" fill="#80354a" text-anchor="end" textLength="4.55" lengthAdjust="spacingAndGlyphs" stroke="#80354a" stroke-width="0.12">3.7</text>
<text x="17.20" y="296.02" font-size="5.0" fill="#80354a" text-anchor="end" textLength="4.55" lengthAdjust="spacingAndGlyphs" stroke="#80354a" stroke-width="0.12">3.0</text>
<text x="17.20" y="307.99" font-size="5.0" fill="#80354a" text-anchor="end" textLength="4.55" lengthAdjust="spacingAndGlyphs" stroke="#80354a" stroke-width="0.12">2.2</text>
<text x="17.20" y="319.96" font-size="5.0" fill="#80354a" text-anchor="end" textLength="4.55" lengthAdjust="spacingAndGlyphs" stroke="#80354a" stroke-width="0.12">1.5</text>
<text x="17.20" y="331.93" font-size="5.0" fill="#80354a" text-anchor="end" textLength="4.55" lengthAdjust="spacingAndGlyphs" stroke="#80354a" stroke-width="0.12">0.7</text>
<text x="17.20" y="341.70" font-size="5.0" fill="#80354a" text-anchor="end" textLength="10.35" lengthAdjust="spacingAndGlyphs" stroke="#80354a" stroke-width="0.12">0.0 mN</text>
<text x="20.10" y="351.20" font-size="5.0" fill="#2a8378" textLength="9.85" lengthAdjust="spacingAndGlyphs" stroke="#2a8378" stroke-width="0.12">0.0 nm</text>
<text x="42.09" y="351.20" font-size="5.0" fill="#2a8378" text-anchor="middle" textLength="9.95" lengthAdjust="spacingAndGlyphs" stroke="#2a8378" stroke-width="0.12">2000.0</text>
<text x="64.38" y="351.20" font-size="5.0" fill="#2a8378" text-anchor="middle" textLength="9.95" lengthAdjust="spacingAndGlyphs" stroke="#2a8378" stroke-width="0.12">4000.0</text>
<text x="86.67" y="351.20" font-size="5.0" fill="#2a8378" text-anchor="middle" textLength="9.95" lengthAdjust="spacingAndGlyphs" stroke="#2a8378" stroke-width="0.12">6000.0</text>
<text x="108.96" y="351.20" font-size="5.0" fill="#2a8378" text-anchor="middle" textLength="9.95" lengthAdjust="spacingAndGlyphs" stroke="#2a8378" stroke-width="0.12">8000.0</text>
<text x="131.25" y="351.20" font-size="5.0" fill="#2a8378" text-anchor="middle" textLength="5.70" lengthAdjust="spacingAndGlyphs" stroke="#2a8378" stroke-width="0.12">1E4</text>
<text x="153.54" y="351.20" font-size="5.0" fill="#2a8378" text-anchor="middle" textLength="8.45" lengthAdjust="spacingAndGlyphs" stroke="#2a8378" stroke-width="0.12">1.2E4</text>
<text x="175.83" y="351.20" font-size="5.0" fill="#2a8378" text-anchor="middle" textLength="8.45" lengthAdjust="spacingAndGlyphs" stroke="#2a8378" stroke-width="0.12">1.4E4</text>
<text x="198.12" y="351.20" font-size="5.0" fill="#2a8378" text-anchor="middle" textLength="8.45" lengthAdjust="spacingAndGlyphs" stroke="#2a8378" stroke-width="0.12">1.6E4</text>
<text x="220.41" y="351.20" font-size="5.0" fill="#2a8378" text-anchor="middle" textLength="8.45" lengthAdjust="spacingAndGlyphs" stroke="#2a8378" stroke-width="0.12">1.8E4</text>
<text x="243.20" y="351.20" font-size="5.0" fill="#2a8378" text-anchor="end" textLength="5.70" lengthAdjust="spacingAndGlyphs" stroke="#2a8378" stroke-width="0.12">2E4</text>
<path d="M19.80,341.90 L19.90,341.16 L20.10,340.57 L20.40,339.94 L20.80,339.27 L21.30,338.57 L21.80,337.94 L22.80,336.82 L23.80,335.80 L24.80,334.86 L25.80,333.96 L26.80,333.11 L27.80,332.28 L28.80,331.48 L29.80,330.69 L30.80,329.93 L31.80,329.18 L32.80,328.44 L33.80,327.71 L34.80,326.99 L35.80,326.29 L36.80,325.59 L37.80,324.90 L38.80,324.21 L39.80,323.53 L40.80,322.86 L41.80,322.19 L42.80,321.53 L43.80,320.87 L44.80,320.22 L45.80,319.57 L46.80,318.92 L47.80,318.28 L48.80,317.64 L49.80,317.00 L50.80,316.37 L51.80,315.74 L52.80,315.11 L53.80,314.48 L54.80,313.86 L55.80,313.24 L56.80,312.62 L57.80,312.01 L58.80,311.39 L59.80,310.78 L60.80,310.17 L61.80,309.56 L62.80,308.95 L63.80,308.34 L64.80,307.74 L65.80,307.14 L66.80,306.54 L67.80,305.94 L68.80,305.34 L69.80,304.74 L70.80,304.14 L71.80,303.55 L72.80,302.95 L73.80,302.36 L74.80,301.76 L75.80,301.17 L76.80,300.58 L77.80,299.99 L78.80,299.40 L79.80,298.82 L80.80,298.23 L81.80,297.64 L82.80,297.06 L83.80,296.47 L84.80,295.89 L85.80,295.30 L86.80,294.72 L87.80,294.14 L88.80,293.55 L89.80,292.97 L90.80,292.39 L91.80,291.81 L92.80,291.23 L93.80,290.65 L94.80,290.07 L95.80,289.49 L96.80,288.92 L97.80,288.34 L98.80,287.76 L99.80,287.19 L100.80,286.61 L101.80,286.03 L102.80,285.46 L103.80,284.88 L104.80,284.31 L105.80,283.73 L106.80,283.16 L107.80,282.58 L108.80,282.01 L109.80,281.43 L110.80,280.86 L111.80,280.29 L112.80,279.71 L113.80,279.14 L114.80,278.57 L115.80,278.00 L116.80,277.42 L117.80,276.85 L118.80,276.28 L119.80,275.71 L120.80,275.14 L121.80,274.57 L122.80,273.99 L123.80,273.42 L124.80,272.85 L125.80,272.28 L126.80,271.71 L127.80,271.14 L128.80,270.57 L129.80,270.00 L130.80,269.43 L131.80,268.86 L132.80,268.29 L133.80,267.72 L134.80,267.15 L135.80,266.58 L136.80,266.01 L137.80,265.44 L138.80,264.87 L139.80,264.30 L140.80,263.73 L141.80,263.16 L142.80,262.59 L143.30,262.30 L221.00,262.30 L221.01,262.30 L221.02,263.30 L220.99,264.30 L220.91,265.30 L220.80,266.30 L220.65,267.30 L220.46,268.30 L220.23,269.30 L219.96,270.30 L219.65,271.30 L219.31,272.30 L218.93,273.30 L218.52,274.30 L218.07,275.30 L217.58,276.30 L217.07,277.30 L216.51,278.30 L215.93,279.30 L215.31,280.30 L214.66,281.30 L213.98,282.30 L213.27,283.30 L212.53,284.30 L211.75,285.30 L210.95,286.30 L210.12,287.30 L209.27,288.30 L208.38,289.30 L207.47,290.30 L206.53,291.30 L205.56,292.30 L204.57,293.30 L203.56,294.30 L202.52,295.30 L201.45,296.30 L200.37,297.30 L199.26,298.30 L198.12,299.30 L196.97,300.30 L195.80,301.30 L194.60,302.30 L193.39,303.30 L192.15,304.30 L190.90,305.30 L189.63,306.30 L188.34,307.30 L187.03,308.30 L185.71,309.30 L184.37,310.30 L183.02,311.30 L181.65,312.30 L180.26,313.30 L178.87,314.30 L177.45,315.30 L176.03,316.30 L174.59,317.30 L173.15,318.30 L171.69,319.30 L170.22,320.30 L168.74,321.30 L167.25,322.30 L165.75,323.30 L164.24,324.30 L162.73,325.30 L161.20,326.30 L159.67,327.30 L158.14,328.30 L156.60,329.30 L155.05,330.30 L153.50,331.30 L151.94,332.30 L150.39,333.30 L148.82,334.30 L147.26,335.30 L145.69,336.30 L144.13,337.30 L142.56,338.30 L140.99,339.30 L140.20,339.80" fill="none" stroke="#f6e6e9" stroke-width="1.25" stroke-linejoin="round"/>
<path d="M19.80,341.90 L19.90,341.16 L20.10,340.57 L20.40,339.94 L20.80,339.27 L21.30,338.57 L21.80,337.94 L22.80,336.82 L23.80,335.80 L24.80,334.86 L25.80,333.96 L26.80,333.11 L27.80,332.28 L28.80,331.48 L29.80,330.69 L30.80,329.93 L31.80,329.18 L32.80,328.44 L33.80,327.71 L34.80,326.99 L35.80,326.29 L36.80,325.59 L37.80,324.90 L38.80,324.21 L39.80,323.53 L40.80,322.86 L41.80,322.19 L42.80,321.53 L43.80,320.87 L44.80,320.22 L45.80,319.57 L46.80,318.92 L47.80,318.28 L48.80,317.64 L49.80,317.00 L50.80,316.37 L51.80,315.74 L52.80,315.11 L53.80,314.48 L54.80,313.86 L55.80,313.24 L56.80,312.62 L57.80,312.01 L58.80,311.39 L59.80,310.78 L60.80,310.17 L61.80,309.56 L62.80,308.95 L63.80,308.34 L64.80,307.74 L65.80,307.14 L66.80,306.54 L67.80,305.94 L68.80,305.34 L69.80,304.74 L70.80,304.14 L71.80,303.55 L72.80,302.95 L73.80,302.36 L74.80,301.76 L75.80,301.17 L76.80,300.58 L77.80,299.99 L78.80,299.40 L79.80,298.82 L80.80,298.23 L81.80,297.64 L82.80,297.06 L83.80,296.47 L84.80,295.89 L85.80,295.30 L86.80,294.72 L87.80,294.14 L88.80,293.55 L89.80,292.97 L90.80,292.39 L91.80,291.81 L92.80,291.23 L93.80,290.65 L94.80,290.07 L95.80,289.49 L96.80,288.92 L97.80,288.34 L98.80,287.76 L99.80,287.19 L100.80,286.61 L101.80,286.03 L102.80,285.46 L103.80,284.88 L104.80,284.31 L105.80,283.73 L106.80,283.16 L107.80,282.58 L108.80,282.01 L109.80,281.43 L110.80,280.86 L111.80,280.29 L112.80,279.71 L113.80,279.14 L114.80,278.57 L115.80,278.00 L116.80,277.42 L117.80,276.85 L118.80,276.28 L119.80,275.71 L120.80,275.14 L121.80,274.57 L122.80,273.99 L123.80,273.42 L124.80,272.85 L125.80,272.28 L126.80,271.71 L127.80,271.14 L128.80,270.57 L129.80,270.00 L130.80,269.43 L131.80,268.86 L132.80,268.29 L133.80,267.72 L134.80,267.15 L135.80,266.58 L136.80,266.01 L137.80,265.44 L138.80,264.87 L139.80,264.30 L140.80,263.73 L141.80,263.16 L142.80,262.59 L143.30,262.30 L221.00,262.30 L221.01,262.30 L221.02,263.30 L220.99,264.30 L220.91,265.30 L220.80,266.30 L220.65,267.30 L220.46,268.30 L220.23,269.30 L219.96,270.30 L219.65,271.30 L219.31,272.30 L218.93,273.30 L218.52,274.30 L218.07,275.30 L217.58,276.30 L217.07,277.30 L216.51,278.30 L215.93,279.30 L215.31,280.30 L214.66,281.30 L213.98,282.30 L213.27,283.30 L212.53,284.30 L211.75,285.30 L210.95,286.30 L210.12,287.30 L209.27,288.30 L208.38,289.30 L207.47,290.30 L206.53,291.30 L205.56,292.30 L204.57,293.30 L203.56,294.30 L202.52,295.30 L201.45,296.30 L200.37,297.30 L199.26,298.30 L198.12,299.30 L196.97,300.30 L195.80,301.30 L194.60,302.30 L193.39,303.30 L192.15,304.30 L190.90,305.30 L189.63,306.30 L188.34,307.30 L187.03,308.30 L185.71,309.30 L184.37,310.30 L183.02,311.30 L181.65,312.30 L180.26,313.30 L178.87,314.30 L177.45,315.30 L176.03,316.30 L174.59,317.30 L173.15,318.30 L171.69,319.30 L170.22,320.30 L168.74,321.30 L167.25,322.30 L165.75,323.30 L164.24,324.30 L162.73,325.30 L161.20,326.30 L159.67,327.30 L158.14,328.30 L156.60,329.30 L155.05,330.30 L153.50,331.30 L151.94,332.30 L150.39,333.30 L148.82,334.30 L147.26,335.30 L145.69,336.30 L144.13,337.30 L142.56,338.30 L140.99,339.30 L140.20,339.80" fill="none" stroke="#9e4454" stroke-width="0.9" stroke-linejoin="round"/>
<rect x="1.40" y="352.60" width="3" height="3" fill="#5a0f1a"/>
<text x="5.30" y="356.30" font-size="4.2" fill="#a0384a" textLength="19.00" lengthAdjust="spacingAndGlyphs">Indentation</text>
<rect x="298.80" y="222.10" width="1" height="1" fill="#7a7a7a"/>
<rect x="298.80" y="234.03" width="1" height="1" fill="#7a7a7a"/>
<rect x="298.80" y="245.96" width="1" height="1" fill="#7a7a7a"/>
<rect x="298.80" y="257.89" width="1" height="1" fill="#7a7a7a"/>
<rect x="298.80" y="269.82" width="1" height="1" fill="#7a7a7a"/>
<rect x="298.80" y="281.75" width="1" height="1" fill="#7a7a7a"/>
<rect x="298.80" y="293.68" width="1" height="1" fill="#7a7a7a"/>
<rect x="298.80" y="305.61" width="1" height="1" fill="#7a7a7a"/>
<rect x="298.80" y="317.54" width="1" height="1" fill="#7a7a7a"/>
<rect x="298.80" y="329.47" width="1" height="1" fill="#7a7a7a"/>
<rect x="321.10" y="222.10" width="1" height="1" fill="#7a7a7a"/>
<rect x="321.10" y="234.03" width="1" height="1" fill="#7a7a7a"/>
<rect x="321.10" y="245.96" width="1" height="1" fill="#7a7a7a"/>
<rect x="321.10" y="257.89" width="1" height="1" fill="#7a7a7a"/>
<rect x="321.10" y="269.82" width="1" height="1" fill="#7a7a7a"/>
<rect x="321.10" y="281.75" width="1" height="1" fill="#7a7a7a"/>
<rect x="321.10" y="293.68" width="1" height="1" fill="#7a7a7a"/>
<rect x="321.10" y="305.61" width="1" height="1" fill="#7a7a7a"/>
<rect x="321.10" y="317.54" width="1" height="1" fill="#7a7a7a"/>
<rect x="321.10" y="329.47" width="1" height="1" fill="#7a7a7a"/>
<rect x="343.40" y="222.10" width="1" height="1" fill="#7a7a7a"/>
<rect x="343.40" y="234.03" width="1" height="1" fill="#7a7a7a"/>
<rect x="343.40" y="245.96" width="1" height="1" fill="#7a7a7a"/>
<rect x="343.40" y="257.89" width="1" height="1" fill="#7a7a7a"/>
<rect x="343.40" y="269.82" width="1" height="1" fill="#7a7a7a"/>
<rect x="343.40" y="281.75" width="1" height="1" fill="#7a7a7a"/>
<rect x="343.40" y="293.68" width="1" height="1" fill="#7a7a7a"/>
<rect x="343.40" y="305.61" width="1" height="1" fill="#7a7a7a"/>
<rect x="343.40" y="317.54" width="1" height="1" fill="#7a7a7a"/>
<rect x="343.40" y="329.47" width="1" height="1" fill="#7a7a7a"/>
<rect x="365.70" y="222.10" width="1" height="1" fill="#7a7a7a"/>
<rect x="365.70" y="234.03" width="1" height="1" fill="#7a7a7a"/>
<rect x="365.70" y="245.96" width="1" height="1" fill="#7a7a7a"/>
<rect x="365.70" y="257.89" width="1" height="1" fill="#7a7a7a"/>
<rect x="365.70" y="269.82" width="1" height="1" fill="#7a7a7a"/>
<rect x="365.70" y="281.75" width="1" height="1" fill="#7a7a7a"/>
<rect x="365.70" y="293.68" width="1" height="1" fill="#7a7a7a"/>
<rect x="365.70" y="305.61" width="1" height="1" fill="#7a7a7a"/>
<rect x="365.70" y="317.54" width="1" height="1" fill="#7a7a7a"/>
<rect x="365.70" y="329.47" width="1" height="1" fill="#7a7a7a"/>
<rect x="388.00" y="222.10" width="1" height="1" fill="#7a7a7a"/>
<rect x="388.00" y="234.03" width="1" height="1" fill="#7a7a7a"/>
<rect x="388.00" y="245.96" width="1" height="1" fill="#7a7a7a"/>
<rect x="388.00" y="257.89" width="1" height="1" fill="#7a7a7a"/>
<rect x="388.00" y="269.82" width="1" height="1" fill="#7a7a7a"/>
<rect x="388.00" y="281.75" width="1" height="1" fill="#7a7a7a"/>
<rect x="388.00" y="293.68" width="1" height="1" fill="#7a7a7a"/>
<rect x="388.00" y="305.61" width="1" height="1" fill="#7a7a7a"/>
<rect x="388.00" y="317.54" width="1" height="1" fill="#7a7a7a"/>
<rect x="388.00" y="329.47" width="1" height="1" fill="#7a7a7a"/>
<rect x="410.30" y="222.10" width="1" height="1" fill="#7a7a7a"/>
<rect x="410.30" y="234.03" width="1" height="1" fill="#7a7a7a"/>
<rect x="410.30" y="245.96" width="1" height="1" fill="#7a7a7a"/>
<rect x="410.30" y="257.89" width="1" height="1" fill="#7a7a7a"/>
<rect x="410.30" y="269.82" width="1" height="1" fill="#7a7a7a"/>
<rect x="410.30" y="281.75" width="1" height="1" fill="#7a7a7a"/>
<rect x="410.30" y="293.68" width="1" height="1" fill="#7a7a7a"/>
<rect x="410.30" y="305.61" width="1" height="1" fill="#7a7a7a"/>
<rect x="410.30" y="317.54" width="1" height="1" fill="#7a7a7a"/>
<rect x="410.30" y="329.47" width="1" height="1" fill="#7a7a7a"/>
<rect x="432.60" y="222.10" width="1" height="1" fill="#7a7a7a"/>
<rect x="432.60" y="234.03" width="1" height="1" fill="#7a7a7a"/>
<rect x="432.60" y="245.96" width="1" height="1" fill="#7a7a7a"/>
<rect x="432.60" y="257.89" width="1" height="1" fill="#7a7a7a"/>
<rect x="432.60" y="269.82" width="1" height="1" fill="#7a7a7a"/>
<rect x="432.60" y="281.75" width="1" height="1" fill="#7a7a7a"/>
<rect x="432.60" y="293.68" width="1" height="1" fill="#7a7a7a"/>
<rect x="432.60" y="305.61" width="1" height="1" fill="#7a7a7a"/>
<rect x="432.60" y="317.54" width="1" height="1" fill="#7a7a7a"/>
<rect x="432.60" y="329.47" width="1" height="1" fill="#7a7a7a"/>
<rect x="454.90" y="222.10" width="1" height="1" fill="#7a7a7a"/>
<rect x="454.90" y="234.03" width="1" height="1" fill="#7a7a7a"/>
<rect x="454.90" y="245.96" width="1" height="1" fill="#7a7a7a"/>
<rect x="454.90" y="257.89" width="1" height="1" fill="#7a7a7a"/>
<rect x="454.90" y="269.82" width="1" height="1" fill="#7a7a7a"/>
<rect x="454.90" y="281.75" width="1" height="1" fill="#7a7a7a"/>
<rect x="454.90" y="293.68" width="1" height="1" fill="#7a7a7a"/>
<rect x="454.90" y="305.61" width="1" height="1" fill="#7a7a7a"/>
<rect x="454.90" y="317.54" width="1" height="1" fill="#7a7a7a"/>
<rect x="454.90" y="329.47" width="1" height="1" fill="#7a7a7a"/>
<rect x="477.20" y="222.10" width="1" height="1" fill="#7a7a7a"/>
<rect x="477.20" y="234.03" width="1" height="1" fill="#7a7a7a"/>
<rect x="477.20" y="245.96" width="1" height="1" fill="#7a7a7a"/>
<rect x="477.20" y="257.89" width="1" height="1" fill="#7a7a7a"/>
<rect x="477.20" y="269.82" width="1" height="1" fill="#7a7a7a"/>
<rect x="477.20" y="281.75" width="1" height="1" fill="#7a7a7a"/>
<rect x="477.20" y="293.68" width="1" height="1" fill="#7a7a7a"/>
<rect x="477.20" y="305.61" width="1" height="1" fill="#7a7a7a"/>
<rect x="477.20" y="317.54" width="1" height="1" fill="#7a7a7a"/>
<rect x="477.20" y="329.47" width="1" height="1" fill="#7a7a7a"/>
<rect x="499.50" y="222.10" width="1" height="1" fill="#7a7a7a"/>
<rect x="499.50" y="234.03" width="1" height="1" fill="#7a7a7a"/>
<rect x="499.50" y="245.96" width="1" height="1" fill="#7a7a7a"/>
<rect x="499.50" y="257.89" width="1" height="1" fill="#7a7a7a"/>
<rect x="499.50" y="269.82" width="1" height="1" fill="#7a7a7a"/>
<rect x="499.50" y="281.75" width="1" height="1" fill="#7a7a7a"/>
<rect x="499.50" y="293.68" width="1" height="1" fill="#7a7a7a"/>
<rect x="499.50" y="305.61" width="1" height="1" fill="#7a7a7a"/>
<rect x="499.50" y="317.54" width="1" height="1" fill="#7a7a7a"/>
<rect x="499.50" y="329.47" width="1" height="1" fill="#7a7a7a"/>
<line x1="277.00" y1="341.90" x2="500.00" y2="341.90" stroke="#78bdb3" stroke-width="1.1"/>
<line x1="277.00" y1="341.90" x2="277.00" y2="345.10" stroke="#3a8a80" stroke-width="0.9"/>
<line x1="288.15" y1="341.90" x2="288.15" y2="343.50" stroke="#3a8a80" stroke-width="0.9"/>
<line x1="299.30" y1="341.90" x2="299.30" y2="345.10" stroke="#3a8a80" stroke-width="0.9"/>
<line x1="310.45" y1="341.90" x2="310.45" y2="343.50" stroke="#3a8a80" stroke-width="0.9"/>
<line x1="321.60" y1="341.90" x2="321.60" y2="345.10" stroke="#3a8a80" stroke-width="0.9"/>
<line x1="332.75" y1="341.90" x2="332.75" y2="343.50" stroke="#3a8a80" stroke-width="0.9"/>
<line x1="343.90" y1="341.90" x2="343.90" y2="345.10" stroke="#3a8a80" stroke-width="0.9"/>
<line x1="355.05" y1="341.90" x2="355.05" y2="343.50" stroke="#3a8a80" stroke-width="0.9"/>
<line x1="366.20" y1="341.90" x2="366.20" y2="345.10" stroke="#3a8a80" stroke-width="0.9"/>
<line x1="377.35" y1="341.90" x2="377.35" y2="343.50" stroke="#3a8a80" stroke-width="0.9"/>
<line x1="388.50" y1="341.90" x2="388.50" y2="345.10" stroke="#3a8a80" stroke-width="0.9"/>
<line x1="399.65" y1="341.90" x2="399.65" y2="343.50" stroke="#3a8a80" stroke-width="0.9"/>
<line x1="410.80" y1="341.90" x2="410.80" y2="345.10" stroke="#3a8a80" stroke-width="0.9"/>
<line x1="421.95" y1="341.90" x2="421.95" y2="343.50" stroke="#3a8a80" stroke-width="0.9"/>
<line x1="433.10" y1="341.90" x2="433.10" y2="345.10" stroke="#3a8a80" stroke-width="0.9"/>
<line x1="444.25" y1="341.90" x2="444.25" y2="343.50" stroke="#3a8a80" stroke-width="0.9"/>
<line x1="455.40" y1="341.90" x2="455.40" y2="345.10" stroke="#3a8a80" stroke-width="0.9"/>
<line x1="466.55" y1="341.90" x2="466.55" y2="343.50" stroke="#3a8a80" stroke-width="0.9"/>
<line x1="477.70" y1="341.90" x2="477.70" y2="345.10" stroke="#3a8a80" stroke-width="0.9"/>
<line x1="488.85" y1="341.90" x2="488.85" y2="343.50" stroke="#3a8a80" stroke-width="0.9"/>
<line x1="500.00" y1="341.90" x2="500.00" y2="345.10" stroke="#3a8a80" stroke-width="0.9"/>
<line x1="277.00" y1="222.60" x2="277.00" y2="345.30" stroke="#a86e82" stroke-width="1"/>
<line x1="275.50" y1="222.60" x2="277.00" y2="222.60" stroke="#a86e82" stroke-width="0.9"/>
<line x1="275.10" y1="222.60" x2="277.00" y2="222.60" stroke="#7a4a5a" stroke-width="0.9"/>
<line x1="276.00" y1="228.56" x2="277.00" y2="228.56" stroke="#7a4a5a" stroke-width="0.9"/>
<line x1="275.10" y1="234.53" x2="277.00" y2="234.53" stroke="#7a4a5a" stroke-width="0.9"/>
<line x1="276.00" y1="240.50" x2="277.00" y2="240.50" stroke="#7a4a5a" stroke-width="0.9"/>
<line x1="275.10" y1="246.46" x2="277.00" y2="246.46" stroke="#7a4a5a" stroke-width="0.9"/>
<line x1="276.00" y1="252.42" x2="277.00" y2="252.42" stroke="#7a4a5a" stroke-width="0.9"/>
<line x1="275.10" y1="258.39" x2="277.00" y2="258.39" stroke="#7a4a5a" stroke-width="0.9"/>
<line x1="276.00" y1="264.35" x2="277.00" y2="264.35" stroke="#7a4a5a" stroke-width="0.9"/>
<line x1="275.10" y1="270.32" x2="277.00" y2="270.32" stroke="#7a4a5a" stroke-width="0.9"/>
<line x1="276.00" y1="276.28" x2="277.00" y2="276.28" stroke="#7a4a5a" stroke-width="0.9"/>
<line x1="275.10" y1="282.25" x2="277.00" y2="282.25" stroke="#7a4a5a" stroke-width="0.9"/>
<line x1="276.00" y1="288.21" x2="277.00" y2="288.21" stroke="#7a4a5a" stroke-width="0.9"/>
<line x1="275.10" y1="294.18" x2="277.00" y2="294.18" stroke="#7a4a5a" stroke-width="0.9"/>
<line x1="276.00" y1="300.14" x2="277.00" y2="300.14" stroke="#7a4a5a" stroke-width="0.9"/>
<line x1="275.10" y1="306.11" x2="277.00" y2="306.11" stroke="#7a4a5a" stroke-width="0.9"/>
<line x1="276.00" y1="312.07" x2="277.00" y2="312.07" stroke="#7a4a5a" stroke-width="0.9"/>
<line x1="275.10" y1="318.04" x2="277.00" y2="318.04" stroke="#7a4a5a" stroke-width="0.9"/>
<line x1="276.00" y1="324.00" x2="277.00" y2="324.00" stroke="#7a4a5a" stroke-width="0.9"/>
<line x1="275.10" y1="329.97" x2="277.00" y2="329.97" stroke="#7a4a5a" stroke-width="0.9"/>
<line x1="276.00" y1="335.93" x2="277.00" y2="335.93" stroke="#7a4a5a" stroke-width="0.9"/>
<line x1="275.10" y1="341.90" x2="277.00" y2="341.90" stroke="#7a4a5a" stroke-width="0.9"/>
<text x="274.40" y="227.00" font-size="5.0" fill="#80354a" text-anchor="end" textLength="6.35" lengthAdjust="spacingAndGlyphs" stroke="#80354a" stroke-width="0.12">15.0</text>
<text x="274.40" y="236.53" font-size="5.0" fill="#80354a" text-anchor="end" textLength="6.35" lengthAdjust="spacingAndGlyphs" stroke="#80354a" stroke-width="0.12">13.5</text>
<text x="274.40" y="248.46" font-size="5.0" fill="#80354a" text-anchor="end" textLength="6.35" lengthAdjust="spacingAndGlyphs" stroke="#80354a" stroke-width="0.12">12.0</text>
<text x="274.40" y="260.39" font-size="5.0" fill="#80354a" text-anchor="end" textLength="6.35" lengthAdjust="spacingAndGlyphs" stroke="#80354a" stroke-width="0.12">10.5</text>
<text x="274.40" y="272.32" font-size="5.0" fill="#80354a" text-anchor="end" textLength="4.55" lengthAdjust="spacingAndGlyphs" stroke="#80354a" stroke-width="0.12">9.0</text>
<text x="274.40" y="284.25" font-size="5.0" fill="#80354a" text-anchor="end" textLength="4.55" lengthAdjust="spacingAndGlyphs" stroke="#80354a" stroke-width="0.12">7.5</text>
<text x="274.40" y="296.18" font-size="5.0" fill="#80354a" text-anchor="end" textLength="4.55" lengthAdjust="spacingAndGlyphs" stroke="#80354a" stroke-width="0.12">6.0</text>
<text x="274.40" y="308.11" font-size="5.0" fill="#80354a" text-anchor="end" textLength="4.55" lengthAdjust="spacingAndGlyphs" stroke="#80354a" stroke-width="0.12">4.5</text>
<text x="274.40" y="320.04" font-size="5.0" fill="#80354a" text-anchor="end" textLength="4.55" lengthAdjust="spacingAndGlyphs" stroke="#80354a" stroke-width="0.12">3.0</text>
<text x="274.40" y="331.97" font-size="5.0" fill="#80354a" text-anchor="end" textLength="4.55" lengthAdjust="spacingAndGlyphs" stroke="#80354a" stroke-width="0.12">1.5</text>
<text x="274.40" y="341.70" font-size="5.0" fill="#80354a" text-anchor="end" textLength="10.35" lengthAdjust="spacingAndGlyphs" stroke="#80354a" stroke-width="0.12">0.0 mN</text>
<text x="277.30" y="351.20" font-size="5.0" fill="#2a8378" textLength="9.85" lengthAdjust="spacingAndGlyphs" stroke="#2a8378" stroke-width="0.12">0.0 nm</text>
<text x="299.30" y="351.20" font-size="5.0" fill="#2a8378" text-anchor="middle" textLength="9.95" lengthAdjust="spacingAndGlyphs" stroke="#2a8378" stroke-width="0.12">4000.0</text>
<text x="321.60" y="351.20" font-size="5.0" fill="#2a8378" text-anchor="middle" textLength="9.95" lengthAdjust="spacingAndGlyphs" stroke="#2a8378" stroke-width="0.12">8000.0</text>
<text x="343.90" y="351.20" font-size="5.0" fill="#2a8378" text-anchor="middle" textLength="8.45" lengthAdjust="spacingAndGlyphs" stroke="#2a8378" stroke-width="0.12">1.2E4</text>
<text x="366.20" y="351.20" font-size="5.0" fill="#2a8378" text-anchor="middle" textLength="8.45" lengthAdjust="spacingAndGlyphs" stroke="#2a8378" stroke-width="0.12">1.6E4</text>
<text x="388.50" y="351.20" font-size="5.0" fill="#2a8378" text-anchor="middle" textLength="5.70" lengthAdjust="spacingAndGlyphs" stroke="#2a8378" stroke-width="0.12">2E4</text>
<text x="410.80" y="351.20" font-size="5.0" fill="#2a8378" text-anchor="middle" textLength="8.45" lengthAdjust="spacingAndGlyphs" stroke="#2a8378" stroke-width="0.12">2.4E4</text>
<text x="433.10" y="351.20" font-size="5.0" fill="#2a8378" text-anchor="middle" textLength="8.45" lengthAdjust="spacingAndGlyphs" stroke="#2a8378" stroke-width="0.12">2.8E4</text>
<text x="455.40" y="351.20" font-size="5.0" fill="#2a8378" text-anchor="middle" textLength="8.45" lengthAdjust="spacingAndGlyphs" stroke="#2a8378" stroke-width="0.12">3.2E4</text>
<text x="477.70" y="351.20" font-size="5.0" fill="#2a8378" text-anchor="middle" textLength="8.45" lengthAdjust="spacingAndGlyphs" stroke="#2a8378" stroke-width="0.12">3.6E4</text>
<text x="500.50" y="351.20" font-size="5.0" fill="#2a8378" text-anchor="end" textLength="5.70" lengthAdjust="spacingAndGlyphs" stroke="#2a8378" stroke-width="0.12">4E4</text>
<path d="M277.00,341.90 L277.10,341.47 L277.30,341.10 L277.60,340.69 L278.00,340.24 L278.50,339.73 L279.00,339.27 L280.00,338.42 L281.00,337.63 L282.00,336.88 L283.00,336.15 L284.00,335.44 L285.00,334.75 L286.00,334.06 L287.00,333.39 L288.00,332.73 L289.00,332.07 L290.00,331.42 L291.00,330.77 L292.00,330.13 L293.00,329.49 L294.00,328.86 L295.00,328.23 L296.00,327.60 L297.00,326.97 L298.00,326.35 L299.00,325.72 L300.00,325.10 L301.00,324.48 L302.00,323.86 L303.00,323.24 L304.00,322.63 L305.00,322.01 L306.00,321.40 L307.00,320.78 L308.00,320.17 L309.00,319.55 L310.00,318.94 L311.00,318.32 L312.00,317.71 L313.00,317.10 L314.00,316.49 L315.00,315.87 L316.00,315.26 L317.00,314.65 L318.00,314.03 L319.00,313.42 L320.00,312.80 L321.00,312.19 L322.00,311.58 L323.00,310.96 L324.00,310.35 L325.00,309.73 L326.00,309.11 L327.00,308.50 L328.00,307.88 L329.00,307.26 L330.00,306.64 L331.00,306.03 L332.00,305.41 L333.00,304.79 L334.00,304.17 L335.00,303.54 L336.00,302.92 L337.00,302.30 L338.00,301.68 L339.00,301.05 L340.00,300.43 L341.00,299.80 L342.00,299.18 L343.00,298.55 L344.00,297.92 L345.00,297.29 L346.00,296.66 L347.00,296.03 L348.00,295.40 L349.00,294.77 L350.00,294.14 L351.00,293.50 L352.00,292.87 L353.00,292.23 L354.00,291.60 L355.00,290.96 L356.00,290.32 L357.00,289.68 L358.00,289.04 L359.00,288.40 L360.00,287.76 L361.00,287.12 L362.00,286.48 L363.00,285.83 L364.00,285.19 L365.00,284.54 L366.00,283.89 L367.00,283.24 L368.00,282.59 L369.00,281.94 L370.00,281.29 L371.00,280.64 L372.00,279.99 L373.00,279.33 L374.00,278.68 L375.00,278.02 L376.00,277.36 L377.00,276.70 L378.00,276.04 L379.00,275.38 L380.00,274.72 L381.00,274.06 L382.00,273.39 L383.00,272.73 L384.00,272.06 L385.00,271.40 L386.00,270.73 L387.00,270.06 L388.00,269.39 L389.00,268.72 L390.00,268.05 L391.00,267.37 L392.00,266.70 L393.00,266.02 L394.00,265.34 L395.00,264.67 L396.00,263.99 L397.00,263.31 L398.00,262.63 L399.00,261.94 L400.00,261.26 L401.00,260.58 L402.00,259.89 L403.00,259.20 L404.00,258.51 L405.00,257.83 L406.00,257.13 L407.00,256.44 L408.00,255.75 L409.00,255.06 L410.00,254.36 L411.00,253.67 L412.00,252.97 L413.00,252.27 L414.00,251.57 L415.00,250.87 L416.00,250.17 L417.00,249.47 L418.00,248.76 L419.00,248.06 L420.00,247.35 L421.00,246.64 L422.00,245.93 L423.00,245.22 L424.00,244.51 L425.00,243.80 L426.00,243.09 L427.00,242.37 L428.00,241.66 L429.00,240.94 L430.00,240.22 L431.00,239.50 L432.00,238.78 L433.00,238.06 L434.00,237.34 L435.00,236.61 L436.00,235.89 L437.00,235.16 L438.00,234.43 L439.00,233.70 L440.00,232.97 L441.00,232.24 L442.00,231.51 L443.00,230.78 L444.00,230.04 L445.00,229.30 L446.00,228.57 L447.00,227.83 L448.00,227.09 L449.00,226.35 L450.00,225.61 L451.00,224.86 L452.00,224.12 L453.00,223.37 L453.50,223.00 L492.60,223.00 L492.50,222.80 L492.61,223.80 L492.68,224.80 L492.71,225.80 L492.71,226.80 L492.67,227.80 L492.60,228.80 L492.49,229.80 L492.35,230.80 L492.17,231.80 L491.96,232.80 L491.72,233.80 L491.45,234.80 L491.15,235.80 L490.82,236.80 L490.46,237.80 L490.07,238.80 L489.65,239.80 L489.20,240.80 L488.72,241.80 L488.22,242.80 L487.70,243.80 L487.14,244.80 L486.56,245.80 L485.96,246.80 L485.34,247.80 L484.69,248.80 L484.01,249.80 L483.32,250.80 L482.61,251.80 L481.87,252.80 L481.11,253.80 L480.34,254.80 L479.54,255.80 L478.73,256.80 L477.90,257.80 L477.05,258.80 L476.18,259.80 L475.30,260.80 L474.40,261.80 L473.49,262.80 L472.57,263.80 L471.63,264.80 L470.67,265.80 L469.71,266.80 L468.73,267.80 L467.74,268.80 L466.74,269.80 L465.73,270.80 L464.71,271.80 L463.68,272.80 L462.64,273.80 L461.59,274.80 L460.53,275.80 L459.46,276.80 L458.39,277.80 L457.30,278.80 L456.20,279.80 L455.09,280.80 L453.98,281.80 L452.85,282.80 L451.71,283.80 L450.57,284.80 L449.41,285.80 L448.24,286.80 L447.07,287.80 L445.88,288.80 L444.68,289.80 L443.48,290.80 L442.26,291.80 L441.03,292.80 L439.80,293.80 L438.55,294.80 L437.29,295.80 L436.02,296.80 L434.75,297.80 L433.46,298.80 L432.16,299.80 L430.85,300.80 L429.53,301.80 L428.20,302.80 L426.86,303.80 L425.51,304.80 L424.15,305.80 L422.77,306.80 L421.39,307.80 L420.00,308.80 L418.59,309.80 L417.18,310.80 L415.75,311.80 L414.31,312.80 L412.87,313.80 L411.40,314.80 L409.93,315.80 L408.44,316.80 L406.94,317.80 L405.42,318.80 L403.89,319.80 L402.34,320.80 L400.77,321.80 L399.19,322.80 L397.59,323.80 L395.97,324.80 L394.34,325.80 L392.68,326.80 L391.00,327.80 L389.31,328.80 L387.59,329.80 L385.85,330.80 L384.08,331.80 L382.30,332.80 L380.49,333.80 L378.66,334.80 L376.80,335.80 L374.92,336.80 L373.01,337.80 L371.08,338.80 L369.11,339.80 L367.13,340.80 L365.72,341.50" fill="none" stroke="#f6e6e9" stroke-width="1.25" stroke-linejoin="round"/>
<path d="M277.00,341.90 L277.10,341.47 L277.30,341.10 L277.60,340.69 L278.00,340.24 L278.50,339.73 L279.00,339.27 L280.00,338.42 L281.00,337.63 L282.00,336.88 L283.00,336.15 L284.00,335.44 L285.00,334.75 L286.00,334.06 L287.00,333.39 L288.00,332.73 L289.00,332.07 L290.00,331.42 L291.00,330.77 L292.00,330.13 L293.00,329.49 L294.00,328.86 L295.00,328.23 L296.00,327.60 L297.00,326.97 L298.00,326.35 L299.00,325.72 L300.00,325.10 L301.00,324.48 L302.00,323.86 L303.00,323.24 L304.00,322.63 L305.00,322.01 L306.00,321.40 L307.00,320.78 L308.00,320.17 L309.00,319.55 L310.00,318.94 L311.00,318.32 L312.00,317.71 L313.00,317.10 L314.00,316.49 L315.00,315.87 L316.00,315.26 L317.00,314.65 L318.00,314.03 L319.00,313.42 L320.00,312.80 L321.00,312.19 L322.00,311.58 L323.00,310.96 L324.00,310.35 L325.00,309.73 L326.00,309.11 L327.00,308.50 L328.00,307.88 L329.00,307.26 L330.00,306.64 L331.00,306.03 L332.00,305.41 L333.00,304.79 L334.00,304.17 L335.00,303.54 L336.00,302.92 L337.00,302.30 L338.00,301.68 L339.00,301.05 L340.00,300.43 L341.00,299.80 L342.00,299.18 L343.00,298.55 L344.00,297.92 L345.00,297.29 L346.00,296.66 L347.00,296.03 L348.00,295.40 L349.00,294.77 L350.00,294.14 L351.00,293.50 L352.00,292.87 L353.00,292.23 L354.00,291.60 L355.00,290.96 L356.00,290.32 L357.00,289.68 L358.00,289.04 L359.00,288.40 L360.00,287.76 L361.00,287.12 L362.00,286.48 L363.00,285.83 L364.00,285.19 L365.00,284.54 L366.00,283.89 L367.00,283.24 L368.00,282.59 L369.00,281.94 L370.00,281.29 L371.00,280.64 L372.00,279.99 L373.00,279.33 L374.00,278.68 L375.00,278.02 L376.00,277.36 L377.00,276.70 L378.00,276.04 L379.00,275.38 L380.00,274.72 L381.00,274.06 L382.00,273.39 L383.00,272.73 L384.00,272.06 L385.00,271.40 L386.00,270.73 L387.00,270.06 L388.00,269.39 L389.00,268.72 L390.00,268.05 L391.00,267.37 L392.00,266.70 L393.00,266.02 L394.00,265.34 L395.00,264.67 L396.00,263.99 L397.00,263.31 L398.00,262.63 L399.00,261.94 L400.00,261.26 L401.00,260.58 L402.00,259.89 L403.00,259.20 L404.00,258.51 L405.00,257.83 L406.00,257.13 L407.00,256.44 L408.00,255.75 L409.00,255.06 L410.00,254.36 L411.00,253.67 L412.00,252.97 L413.00,252.27 L414.00,251.57 L415.00,250.87 L416.00,250.17 L417.00,249.47 L418.00,248.76 L419.00,248.06 L420.00,247.35 L421.00,246.64 L422.00,245.93 L423.00,245.22 L424.00,244.51 L425.00,243.80 L426.00,243.09 L427.00,242.37 L428.00,241.66 L429.00,240.94 L430.00,240.22 L431.00,239.50 L432.00,238.78 L433.00,238.06 L434.00,237.34 L435.00,236.61 L436.00,235.89 L437.00,235.16 L438.00,234.43 L439.00,233.70 L440.00,232.97 L441.00,232.24 L442.00,231.51 L443.00,230.78 L444.00,230.04 L445.00,229.30 L446.00,228.57 L447.00,227.83 L448.00,227.09 L449.00,226.35 L450.00,225.61 L451.00,224.86 L452.00,224.12 L453.00,223.37 L453.50,223.00 L492.60,223.00 L492.50,222.80 L492.61,223.80 L492.68,224.80 L492.71,225.80 L492.71,226.80 L492.67,227.80 L492.60,228.80 L492.49,229.80 L492.35,230.80 L492.17,231.80 L491.96,232.80 L491.72,233.80 L491.45,234.80 L491.15,235.80 L490.82,236.80 L490.46,237.80 L490.07,238.80 L489.65,239.80 L489.20,240.80 L488.72,241.80 L488.22,242.80 L487.70,243.80 L487.14,244.80 L486.56,245.80 L485.96,246.80 L485.34,247.80 L484.69,248.80 L484.01,249.80 L483.32,250.80 L482.61,251.80 L481.87,252.80 L481.11,253.80 L480.34,254.80 L479.54,255.80 L478.73,256.80 L477.90,257.80 L477.05,258.80 L476.18,259.80 L475.30,260.80 L474.40,261.80 L473.49,262.80 L472.57,263.80 L471.63,264.80 L470.67,265.80 L469.71,266.80 L468.73,267.80 L467.74,268.80 L466.74,269.80 L465.73,270.80 L464.71,271.80 L463.68,272.80 L462.64,273.80 L461.59,274.80 L460.53,275.80 L459.46,276.80 L458.39,277.80 L457.30,278.80 L456.20,279.80 L455.09,280.80 L453.98,281.80 L452.85,282.80 L451.71,283.80 L450.57,284.80 L449.41,285.80 L448.24,286.80 L447.07,287.80 L445.88,288.80 L444.68,289.80 L443.48,290.80 L442.26,291.80 L441.03,292.80 L439.80,293.80 L438.55,294.80 L437.29,295.80 L436.02,296.80 L434.75,297.80 L433.46,298.80 L432.16,299.80 L430.85,300.80 L429.53,301.80 L428.20,302.80 L426.86,303.80 L425.51,304.80 L424.15,305.80 L422.77,306.80 L421.39,307.80 L420.00,308.80 L418.59,309.80 L417.18,310.80 L415.75,311.80 L414.31,312.80 L412.87,313.80 L411.40,314.80 L409.93,315.80 L408.44,316.80 L406.94,317.80 L405.42,318.80 L403.89,319.80 L402.34,320.80 L400.77,321.80 L399.19,322.80 L397.59,323.80 L395.97,324.80 L394.34,325.80 L392.68,326.80 L391.00,327.80 L389.31,328.80 L387.59,329.80 L385.85,330.80 L384.08,331.80 L382.30,332.80 L380.49,333.80 L378.66,334.80 L376.80,335.80 L374.92,336.80 L373.01,337.80 L371.08,338.80 L369.11,339.80 L367.13,340.80 L365.72,341.50" fill="none" stroke="#9e4454" stroke-width="0.9" stroke-linejoin="round"/>
<rect x="258.60" y="352.80" width="3" height="3" fill="#5a0f1a"/>
<text x="262.50" y="356.50" font-size="4.2" fill="#a0384a" textLength="19.00" lengthAdjust="spacingAndGlyphs">Indentation</text>
<rect x="552.09" y="222.10" width="1" height="1" fill="#7a7a7a"/>
<rect x="552.09" y="234.07" width="1" height="1" fill="#7a7a7a"/>
<rect x="552.09" y="246.04" width="1" height="1" fill="#7a7a7a"/>
<rect x="552.09" y="258.01" width="1" height="1" fill="#7a7a7a"/>
<rect x="552.09" y="269.98" width="1" height="1" fill="#7a7a7a"/>
<rect x="552.09" y="281.95" width="1" height="1" fill="#7a7a7a"/>
<rect x="552.09" y="293.92" width="1" height="1" fill="#7a7a7a"/>
<rect x="552.09" y="305.89" width="1" height="1" fill="#7a7a7a"/>
<rect x="552.09" y="317.86" width="1" height="1" fill="#7a7a7a"/>
<rect x="552.09" y="329.83" width="1" height="1" fill="#7a7a7a"/>
<rect x="574.38" y="222.10" width="1" height="1" fill="#7a7a7a"/>
<rect x="574.38" y="234.07" width="1" height="1" fill="#7a7a7a"/>
<rect x="574.38" y="246.04" width="1" height="1" fill="#7a7a7a"/>
<rect x="574.38" y="258.01" width="1" height="1" fill="#7a7a7a"/>
<rect x="574.38" y="269.98" width="1" height="1" fill="#7a7a7a"/>
<rect x="574.38" y="281.95" width="1" height="1" fill="#7a7a7a"/>
<rect x="574.38" y="293.92" width="1" height="1" fill="#7a7a7a"/>
<rect x="574.38" y="305.89" width="1" height="1" fill="#7a7a7a"/>
<rect x="574.38" y="317.86" width="1" height="1" fill="#7a7a7a"/>
<rect x="574.38" y="329.83" width="1" height="1" fill="#7a7a7a"/>
<rect x="596.67" y="222.10" width="1" height="1" fill="#7a7a7a"/>
<rect x="596.67" y="234.07" width="1" height="1" fill="#7a7a7a"/>
<rect x="596.67" y="246.04" width="1" height="1" fill="#7a7a7a"/>
<rect x="596.67" y="258.01" width="1" height="1" fill="#7a7a7a"/>
<rect x="596.67" y="269.98" width="1" height="1" fill="#7a7a7a"/>
<rect x="596.67" y="281.95" width="1" height="1" fill="#7a7a7a"/>
<rect x="596.67" y="293.92" width="1" height="1" fill="#7a7a7a"/>
<rect x="596.67" y="305.89" width="1" height="1" fill="#7a7a7a"/>
<rect x="596.67" y="317.86" width="1" height="1" fill="#7a7a7a"/>
<rect x="596.67" y="329.83" width="1" height="1" fill="#7a7a7a"/>
<rect x="618.96" y="222.10" width="1" height="1" fill="#7a7a7a"/>
<rect x="618.96" y="234.07" width="1" height="1" fill="#7a7a7a"/>
<rect x="618.96" y="246.04" width="1" height="1" fill="#7a7a7a"/>
<rect x="618.96" y="258.01" width="1" height="1" fill="#7a7a7a"/>
<rect x="618.96" y="269.98" width="1" height="1" fill="#7a7a7a"/>
<rect x="618.96" y="281.95" width="1" height="1" fill="#7a7a7a"/>
<rect x="618.96" y="293.92" width="1" height="1" fill="#7a7a7a"/>
<rect x="618.96" y="305.89" width="1" height="1" fill="#7a7a7a"/>
<rect x="618.96" y="317.86" width="1" height="1" fill="#7a7a7a"/>
<rect x="618.96" y="329.83" width="1" height="1" fill="#7a7a7a"/>
<rect x="641.25" y="222.10" width="1" height="1" fill="#7a7a7a"/>
<rect x="641.25" y="234.07" width="1" height="1" fill="#7a7a7a"/>
<rect x="641.25" y="246.04" width="1" height="1" fill="#7a7a7a"/>
<rect x="641.25" y="258.01" width="1" height="1" fill="#7a7a7a"/>
<rect x="641.25" y="269.98" width="1" height="1" fill="#7a7a7a"/>
<rect x="641.25" y="281.95" width="1" height="1" fill="#7a7a7a"/>
<rect x="641.25" y="293.92" width="1" height="1" fill="#7a7a7a"/>
<rect x="641.25" y="305.89" width="1" height="1" fill="#7a7a7a"/>
<rect x="641.25" y="317.86" width="1" height="1" fill="#7a7a7a"/>
<rect x="641.25" y="329.83" width="1" height="1" fill="#7a7a7a"/>
<rect x="663.54" y="222.10" width="1" height="1" fill="#7a7a7a"/>
<rect x="663.54" y="234.07" width="1" height="1" fill="#7a7a7a"/>
<rect x="663.54" y="246.04" width="1" height="1" fill="#7a7a7a"/>
<rect x="663.54" y="258.01" width="1" height="1" fill="#7a7a7a"/>
<rect x="663.54" y="269.98" width="1" height="1" fill="#7a7a7a"/>
<rect x="663.54" y="281.95" width="1" height="1" fill="#7a7a7a"/>
<rect x="663.54" y="293.92" width="1" height="1" fill="#7a7a7a"/>
<rect x="663.54" y="305.89" width="1" height="1" fill="#7a7a7a"/>
<rect x="663.54" y="317.86" width="1" height="1" fill="#7a7a7a"/>
<rect x="663.54" y="329.83" width="1" height="1" fill="#7a7a7a"/>
<rect x="685.83" y="222.10" width="1" height="1" fill="#7a7a7a"/>
<rect x="685.83" y="234.07" width="1" height="1" fill="#7a7a7a"/>
<rect x="685.83" y="246.04" width="1" height="1" fill="#7a7a7a"/>
<rect x="685.83" y="258.01" width="1" height="1" fill="#7a7a7a"/>
<rect x="685.83" y="269.98" width="1" height="1" fill="#7a7a7a"/>
<rect x="685.83" y="281.95" width="1" height="1" fill="#7a7a7a"/>
<rect x="685.83" y="293.92" width="1" height="1" fill="#7a7a7a"/>
<rect x="685.83" y="305.89" width="1" height="1" fill="#7a7a7a"/>
<rect x="685.83" y="317.86" width="1" height="1" fill="#7a7a7a"/>
<rect x="685.83" y="329.83" width="1" height="1" fill="#7a7a7a"/>
<rect x="708.12" y="222.10" width="1" height="1" fill="#7a7a7a"/>
<rect x="708.12" y="234.07" width="1" height="1" fill="#7a7a7a"/>
<rect x="708.12" y="246.04" width="1" height="1" fill="#7a7a7a"/>
<rect x="708.12" y="258.01" width="1" height="1" fill="#7a7a7a"/>
<rect x="708.12" y="269.98" width="1" height="1" fill="#7a7a7a"/>
<rect x="708.12" y="281.95" width="1" height="1" fill="#7a7a7a"/>
<rect x="708.12" y="293.92" width="1" height="1" fill="#7a7a7a"/>
<rect x="708.12" y="305.89" width="1" height="1" fill="#7a7a7a"/>
<rect x="708.12" y="317.86" width="1" height="1" fill="#7a7a7a"/>
<rect x="708.12" y="329.83" width="1" height="1" fill="#7a7a7a"/>
<rect x="730.41" y="222.10" width="1" height="1" fill="#7a7a7a"/>
<rect x="730.41" y="234.07" width="1" height="1" fill="#7a7a7a"/>
<rect x="730.41" y="246.04" width="1" height="1" fill="#7a7a7a"/>
<rect x="730.41" y="258.01" width="1" height="1" fill="#7a7a7a"/>
<rect x="730.41" y="269.98" width="1" height="1" fill="#7a7a7a"/>
<rect x="730.41" y="281.95" width="1" height="1" fill="#7a7a7a"/>
<rect x="730.41" y="293.92" width="1" height="1" fill="#7a7a7a"/>
<rect x="730.41" y="305.89" width="1" height="1" fill="#7a7a7a"/>
<rect x="730.41" y="317.86" width="1" height="1" fill="#7a7a7a"/>
<rect x="730.41" y="329.83" width="1" height="1" fill="#7a7a7a"/>
<rect x="752.70" y="222.10" width="1" height="1" fill="#7a7a7a"/>
<rect x="752.70" y="234.07" width="1" height="1" fill="#7a7a7a"/>
<rect x="752.70" y="246.04" width="1" height="1" fill="#7a7a7a"/>
<rect x="752.70" y="258.01" width="1" height="1" fill="#7a7a7a"/>
<rect x="752.70" y="269.98" width="1" height="1" fill="#7a7a7a"/>
<rect x="752.70" y="281.95" width="1" height="1" fill="#7a7a7a"/>
<rect x="752.70" y="293.92" width="1" height="1" fill="#7a7a7a"/>
<rect x="752.70" y="305.89" width="1" height="1" fill="#7a7a7a"/>
<rect x="752.70" y="317.86" width="1" height="1" fill="#7a7a7a"/>
<rect x="752.70" y="329.83" width="1" height="1" fill="#7a7a7a"/>
<line x1="530.30" y1="342.30" x2="753.20" y2="342.30" stroke="#78bdb3" stroke-width="1.1"/>
<line x1="530.30" y1="342.30" x2="530.30" y2="345.50" stroke="#3a8a80" stroke-width="0.9"/>
<line x1="541.44" y1="342.30" x2="541.44" y2="343.90" stroke="#3a8a80" stroke-width="0.9"/>
<line x1="552.59" y1="342.30" x2="552.59" y2="345.50" stroke="#3a8a80" stroke-width="0.9"/>
<line x1="563.73" y1="342.30" x2="563.73" y2="343.90" stroke="#3a8a80" stroke-width="0.9"/>
<line x1="574.88" y1="342.30" x2="574.88" y2="345.50" stroke="#3a8a80" stroke-width="0.9"/>
<line x1="586.02" y1="342.30" x2="586.02" y2="343.90" stroke="#3a8a80" stroke-width="0.9"/>
<line x1="597.17" y1="342.30" x2="597.17" y2="345.50" stroke="#3a8a80" stroke-width="0.9"/>
<line x1="608.31" y1="342.30" x2="608.31" y2="343.90" stroke="#3a8a80" stroke-width="0.9"/>
<line x1="619.46" y1="342.30" x2="619.46" y2="345.50" stroke="#3a8a80" stroke-width="0.9"/>
<line x1="630.61" y1="342.30" x2="630.61" y2="343.90" stroke="#3a8a80" stroke-width="0.9"/>
<line x1="641.75" y1="342.30" x2="641.75" y2="345.50" stroke="#3a8a80" stroke-width="0.9"/>
<line x1="652.89" y1="342.30" x2="652.89" y2="343.90" stroke="#3a8a80" stroke-width="0.9"/>
<line x1="664.04" y1="342.30" x2="664.04" y2="345.50" stroke="#3a8a80" stroke-width="0.9"/>
<line x1="675.18" y1="342.30" x2="675.18" y2="343.90" stroke="#3a8a80" stroke-width="0.9"/>
<line x1="686.33" y1="342.30" x2="686.33" y2="345.50" stroke="#3a8a80" stroke-width="0.9"/>
<line x1="697.48" y1="342.30" x2="697.48" y2="343.90" stroke="#3a8a80" stroke-width="0.9"/>
<line x1="708.62" y1="342.30" x2="708.62" y2="345.50" stroke="#3a8a80" stroke-width="0.9"/>
<line x1="719.76" y1="342.30" x2="719.76" y2="343.90" stroke="#3a8a80" stroke-width="0.9"/>
<line x1="730.91" y1="342.30" x2="730.91" y2="345.50" stroke="#3a8a80" stroke-width="0.9"/>
<line x1="742.06" y1="342.30" x2="742.06" y2="343.90" stroke="#3a8a80" stroke-width="0.9"/>
<line x1="753.20" y1="342.30" x2="753.20" y2="345.50" stroke="#3a8a80" stroke-width="0.9"/>
<line x1="530.30" y1="222.60" x2="530.30" y2="345.70" stroke="#a86e82" stroke-width="1"/>
<line x1="528.80" y1="222.60" x2="530.30" y2="222.60" stroke="#a86e82" stroke-width="0.9"/>
<line x1="528.40" y1="222.60" x2="530.30" y2="222.60" stroke="#7a4a5a" stroke-width="0.9"/>
<line x1="529.30" y1="228.59" x2="530.30" y2="228.59" stroke="#7a4a5a" stroke-width="0.9"/>
<line x1="528.40" y1="234.57" x2="530.30" y2="234.57" stroke="#7a4a5a" stroke-width="0.9"/>
<line x1="529.30" y1="240.56" x2="530.30" y2="240.56" stroke="#7a4a5a" stroke-width="0.9"/>
<line x1="528.40" y1="246.54" x2="530.30" y2="246.54" stroke="#7a4a5a" stroke-width="0.9"/>
<line x1="529.30" y1="252.53" x2="530.30" y2="252.53" stroke="#7a4a5a" stroke-width="0.9"/>
<line x1="528.40" y1="258.51" x2="530.30" y2="258.51" stroke="#7a4a5a" stroke-width="0.9"/>
<line x1="529.30" y1="264.50" x2="530.30" y2="264.50" stroke="#7a4a5a" stroke-width="0.9"/>
<line x1="528.40" y1="270.48" x2="530.30" y2="270.48" stroke="#7a4a5a" stroke-width="0.9"/>
<line x1="529.30" y1="276.47" x2="530.30" y2="276.47" stroke="#7a4a5a" stroke-width="0.9"/>
<line x1="528.40" y1="282.45" x2="530.30" y2="282.45" stroke="#7a4a5a" stroke-width="0.9"/>
<line x1="529.30" y1="288.44" x2="530.30" y2="288.44" stroke="#7a4a5a" stroke-width="0.9"/>
<line x1="528.40" y1="294.42" x2="530.30" y2="294.42" stroke="#7a4a5a" stroke-width="0.9"/>
<line x1="529.30" y1="300.41" x2="530.30" y2="300.41" stroke="#7a4a5a" stroke-width="0.9"/>
<line x1="528.40" y1="306.39" x2="530.30" y2="306.39" stroke="#7a4a5a" stroke-width="0.9"/>
<line x1="529.30" y1="312.38" x2="530.30" y2="312.38" stroke="#7a4a5a" stroke-width="0.9"/>
<line x1="528.40" y1="318.36" x2="530.30" y2="318.36" stroke="#7a4a5a" stroke-width="0.9"/>
<line x1="529.30" y1="324.35" x2="530.30" y2="324.35" stroke="#7a4a5a" stroke-width="0.9"/>
<line x1="528.40" y1="330.33" x2="530.30" y2="330.33" stroke="#7a4a5a" stroke-width="0.9"/>
<line x1="529.30" y1="336.32" x2="530.30" y2="336.32" stroke="#7a4a5a" stroke-width="0.9"/>
<line x1="528.40" y1="342.30" x2="530.30" y2="342.30" stroke="#7a4a5a" stroke-width="0.9"/>
<text x="527.70" y="227.00" font-size="5.0" fill="#80354a" text-anchor="end" textLength="6.35" lengthAdjust="spacingAndGlyphs" stroke="#80354a" stroke-width="0.12">30.0</text>
<text x="527.70" y="236.57" font-size="5.0" fill="#80354a" text-anchor="end" textLength="6.35" lengthAdjust="spacingAndGlyphs" stroke="#80354a" stroke-width="0.12">27.0</text>
<text x="527.70" y="248.54" font-size="5.0" fill="#80354a" text-anchor="end" textLength="6.35" lengthAdjust="spacingAndGlyphs" stroke="#80354a" stroke-width="0.12">24.0</text>
<text x="527.70" y="260.51" font-size="5.0" fill="#80354a" text-anchor="end" textLength="6.35" lengthAdjust="spacingAndGlyphs" stroke="#80354a" stroke-width="0.12">21.0</text>
<text x="527.70" y="272.48" font-size="5.0" fill="#80354a" text-anchor="end" textLength="6.35" lengthAdjust="spacingAndGlyphs" stroke="#80354a" stroke-width="0.12">18.0</text>
<text x="527.70" y="284.45" font-size="5.0" fill="#80354a" text-anchor="end" textLength="6.35" lengthAdjust="spacingAndGlyphs" stroke="#80354a" stroke-width="0.12">15.0</text>
<text x="527.70" y="296.42" font-size="5.0" fill="#80354a" text-anchor="end" textLength="6.35" lengthAdjust="spacingAndGlyphs" stroke="#80354a" stroke-width="0.12">12.0</text>
<text x="527.70" y="308.39" font-size="5.0" fill="#80354a" text-anchor="end" textLength="4.55" lengthAdjust="spacingAndGlyphs" stroke="#80354a" stroke-width="0.12">9.0</text>
<text x="527.70" y="320.36" font-size="5.0" fill="#80354a" text-anchor="end" textLength="4.55" lengthAdjust="spacingAndGlyphs" stroke="#80354a" stroke-width="0.12">6.0</text>
<text x="527.70" y="332.33" font-size="5.0" fill="#80354a" text-anchor="end" textLength="4.55" lengthAdjust="spacingAndGlyphs" stroke="#80354a" stroke-width="0.12">3.0</text>
<text x="527.70" y="342.10" font-size="5.0" fill="#80354a" text-anchor="end" textLength="10.35" lengthAdjust="spacingAndGlyphs" stroke="#80354a" stroke-width="0.12">0.0 mN</text>
<text x="530.60" y="351.60" font-size="5.0" fill="#2a8378" textLength="9.85" lengthAdjust="spacingAndGlyphs" stroke="#2a8378" stroke-width="0.12">0.0 nm</text>
<text x="552.59" y="351.60" font-size="5.0" fill="#2a8378" text-anchor="middle" textLength="9.95" lengthAdjust="spacingAndGlyphs" stroke="#2a8378" stroke-width="0.12">7500.0</text>
<text x="574.88" y="351.60" font-size="5.0" fill="#2a8378" text-anchor="middle" textLength="8.45" lengthAdjust="spacingAndGlyphs" stroke="#2a8378" stroke-width="0.12">1.5E4</text>
<text x="597.17" y="351.60" font-size="5.0" fill="#2a8378" text-anchor="middle" textLength="10.25" lengthAdjust="spacingAndGlyphs" stroke="#2a8378" stroke-width="0.12">2.25E4</text>
<text x="619.46" y="351.60" font-size="5.0" fill="#2a8378" text-anchor="middle" textLength="5.70" lengthAdjust="spacingAndGlyphs" stroke="#2a8378" stroke-width="0.12">3E4</text>
<text x="641.75" y="351.60" font-size="5.0" fill="#2a8378" text-anchor="middle" textLength="10.25" lengthAdjust="spacingAndGlyphs" stroke="#2a8378" stroke-width="0.12">3.75E4</text>
<text x="664.04" y="351.60" font-size="5.0" fill="#2a8378" text-anchor="middle" textLength="8.45" lengthAdjust="spacingAndGlyphs" stroke="#2a8378" stroke-width="0.12">4.5E4</text>
<text x="686.33" y="351.60" font-size="5.0" fill="#2a8378" text-anchor="middle" textLength="10.25" lengthAdjust="spacingAndGlyphs" stroke="#2a8378" stroke-width="0.12">5.25E4</text>
<text x="708.62" y="351.60" font-size="5.0" fill="#2a8378" text-anchor="middle" textLength="5.70" lengthAdjust="spacingAndGlyphs" stroke="#2a8378" stroke-width="0.12">6E4</text>
<text x="730.91" y="351.60" font-size="5.0" fill="#2a8378" text-anchor="middle" textLength="10.25" lengthAdjust="spacingAndGlyphs" stroke="#2a8378" stroke-width="0.12">6.75E4</text>
<text x="753.70" y="351.60" font-size="5.0" fill="#2a8378" text-anchor="end" textLength="8.45" lengthAdjust="spacingAndGlyphs" stroke="#2a8378" stroke-width="0.12">7.5E4</text>
<path d="M530.30,342.30 L530.40,341.85 L530.60,341.48 L530.90,341.08 L531.30,340.65 L531.80,340.18 L532.30,339.76 L533.30,339.00 L534.30,338.30 L535.30,337.65 L536.30,337.01 L537.30,336.40 L538.30,335.80 L539.30,335.21 L540.30,334.63 L541.30,334.06 L542.30,333.49 L543.30,332.93 L544.30,332.38 L545.30,331.82 L546.30,331.27 L547.30,330.72 L548.30,330.17 L549.30,329.62 L550.30,329.07 L551.30,328.52 L552.30,327.98 L553.30,327.43 L554.30,326.88 L555.30,326.33 L556.30,325.78 L557.30,325.23 L558.30,324.68 L559.30,324.13 L560.30,323.57 L561.30,323.02 L562.30,322.46 L563.30,321.91 L564.30,321.35 L565.30,320.78 L566.30,320.22 L567.30,319.66 L568.30,319.09 L569.30,318.52 L570.30,317.95 L571.30,317.38 L572.30,316.80 L573.30,316.22 L574.30,315.64 L575.30,315.06 L576.30,314.48 L577.30,313.89 L578.30,313.30 L579.30,312.71 L580.30,312.12 L581.30,311.52 L582.30,310.93 L583.30,310.33 L584.30,309.72 L585.30,309.12 L586.30,308.51 L587.30,307.90 L588.30,307.28 L589.30,306.67 L590.30,306.05 L591.30,305.43 L592.30,304.80 L593.30,304.18 L594.30,303.55 L595.30,302.92 L596.30,302.28 L597.30,301.64 L598.30,301.00 L599.30,300.36 L600.30,299.71 L601.30,299.06 L602.30,298.41 L603.30,297.76 L604.30,297.10 L605.30,296.44 L606.30,295.78 L607.30,295.11 L608.30,294.44 L609.30,293.77 L610.30,293.10 L611.30,292.42 L612.30,291.74 L613.30,291.06 L614.30,290.37 L615.30,289.68 L616.30,288.99 L617.30,288.29 L618.30,287.59 L619.30,286.89 L620.30,286.19 L621.30,285.48 L622.30,284.77 L623.30,284.06 L624.30,283.34 L625.30,282.62 L626.30,281.90 L627.30,281.18 L628.30,280.45 L629.30,279.72 L630.30,278.98 L631.30,278.25 L632.30,277.51 L633.30,276.76 L634.30,276.02 L635.30,275.27 L636.30,274.52 L637.30,273.76 L638.30,273.00 L639.30,272.24 L640.30,271.48 L641.30,270.71 L642.30,269.94 L643.30,269.16 L644.30,268.39 L645.30,267.61 L646.30,266.82 L647.30,266.04 L648.30,265.25 L649.30,264.45 L650.30,263.66 L651.30,262.86 L652.30,262.06 L653.30,261.25 L654.30,260.45 L655.30,259.63 L656.30,258.82 L657.30,258.00 L658.30,257.18 L659.30,256.36 L660.30,255.53 L661.30,254.70 L662.30,253.87 L663.30,253.03 L664.30,252.19 L665.30,251.35 L666.30,250.50 L667.30,249.65 L668.30,248.80 L669.30,247.95 L670.30,247.09 L671.30,246.23 L672.30,245.36 L673.30,244.49 L674.30,243.62 L675.30,242.75 L676.30,241.87 L677.30,240.99 L678.30,240.11 L679.30,239.22 L680.30,238.33 L681.30,237.44 L682.30,236.54 L683.30,235.64 L684.30,234.74 L685.30,233.83 L686.30,232.92 L687.30,232.01 L688.30,231.09 L689.30,230.17 L690.30,229.25 L691.30,228.33 L692.30,227.40 L693.30,226.47 L694.30,225.53 L695.30,224.59 L696.30,223.65 L697.20,222.80 L715.20,222.80 L715.21,222.80 L715.07,223.80 L714.90,224.80 L714.70,225.80 L714.48,226.80 L714.24,227.80 L713.97,228.80 L713.68,229.80 L713.36,230.80 L713.02,231.80 L712.66,232.80 L712.27,233.80 L711.87,234.80 L711.44,235.80 L710.99,236.80 L710.52,237.80 L710.03,238.80 L709.52,239.80 L708.99,240.80 L708.44,241.80 L707.87,242.80 L707.29,243.80 L706.68,244.80 L706.06,245.80 L705.42,246.80 L704.77,247.80 L704.10,248.80 L703.41,249.80 L702.71,250.80 L701.99,251.80 L701.26,252.80 L700.51,253.80 L699.75,254.80 L698.98,255.80 L698.19,256.80 L697.39,257.80 L696.58,258.80 L695.76,259.80 L694.93,260.80 L694.08,261.80 L693.22,262.80 L692.36,263.80 L691.48,264.80 L690.60,265.80 L689.70,266.80 L688.80,267.80 L687.89,268.80 L686.97,269.80 L686.05,270.80 L685.11,271.80 L684.17,272.80 L683.23,273.80 L682.28,274.80 L681.32,275.80 L680.36,276.80 L679.39,277.80 L678.42,278.80 L677.45,279.80 L676.47,280.80 L675.49,281.80 L674.51,282.80 L673.52,283.80 L672.53,284.80 L671.54,285.80 L670.54,286.80 L669.54,287.80 L668.53,288.80 L667.51,289.80 L666.49,290.80 L665.46,291.80 L664.42,292.80 L663.38,293.80 L662.32,294.80 L661.26,295.80 L660.18,296.80 L659.10,297.80 L658.00,298.80 L656.89,299.80 L655.77,300.80 L654.64,301.80 L653.49,302.80 L652.33,303.80 L651.16,304.80 L649.97,305.80 L648.77,306.80 L647.55,307.80 L646.32,308.80 L645.06,309.80 L643.79,310.80 L642.50,311.80 L641.19,312.80 L639.86,313.80 L638.51,314.80 L637.13,315.80 L635.73,316.80 L634.29,317.80 L632.84,318.80 L631.35,319.80 L629.83,320.80 L628.28,321.80 L626.69,322.80 L625.08,323.80 L623.42,324.80 L621.73,325.80 L620.01,326.80 L618.24,327.80 L616.43,328.80 L614.58,329.80 L612.69,330.80 L610.75,331.80 L608.77,332.80 L606.74,333.80 L604.66,334.80 L602.53,335.80 L600.35,336.80 L598.13,337.80 L595.84,338.80 L593.51,339.80 L591.11,340.80 L588.66,341.80 L587.92,342.10" fill="none" stroke="#f6e6e9" stroke-width="1.25" stroke-linejoin="round"/>
<path d="M530.30,342.30 L530.40,341.85 L530.60,341.48 L530.90,341.08 L531.30,340.65 L531.80,340.18 L532.30,339.76 L533.30,339.00 L534.30,338.30 L535.30,337.65 L536.30,337.01 L537.30,336.40 L538.30,335.80 L539.30,335.21 L540.30,334.63 L541.30,334.06 L542.30,333.49 L543.30,332.93 L544.30,332.38 L545.30,331.82 L546.30,331.27 L547.30,330.72 L548.30,330.17 L549.30,329.62 L550.30,329.07 L551.30,328.52 L552.30,327.98 L553.30,327.43 L554.30,326.88 L555.30,326.33 L556.30,325.78 L557.30,325.23 L558.30,324.68 L559.30,324.13 L560.30,323.57 L561.30,323.02 L562.30,322.46 L563.30,321.91 L564.30,321.35 L565.30,320.78 L566.30,320.22 L567.30,319.66 L568.30,319.09 L569.30,318.52 L570.30,317.95 L571.30,317.38 L572.30,316.80 L573.30,316.22 L574.30,315.64 L575.30,315.06 L576.30,314.48 L577.30,313.89 L578.30,313.30 L579.30,312.71 L580.30,312.12 L581.30,311.52 L582.30,310.93 L583.30,310.33 L584.30,309.72 L585.30,309.12 L586.30,308.51 L587.30,307.90 L588.30,307.28 L589.30,306.67 L590.30,306.05 L591.30,305.43 L592.30,304.80 L593.30,304.18 L594.30,303.55 L595.30,302.92 L596.30,302.28 L597.30,301.64 L598.30,301.00 L599.30,300.36 L600.30,299.71 L601.30,299.06 L602.30,298.41 L603.30,297.76 L604.30,297.10 L605.30,296.44 L606.30,295.78 L607.30,295.11 L608.30,294.44 L609.30,293.77 L610.30,293.10 L611.30,292.42 L612.30,291.74 L613.30,291.06 L614.30,290.37 L615.30,289.68 L616.30,288.99 L617.30,288.29 L618.30,287.59 L619.30,286.89 L620.30,286.19 L621.30,285.48 L622.30,284.77 L623.30,284.06 L624.30,283.34 L625.30,282.62 L626.30,281.90 L627.30,281.18 L628.30,280.45 L629.30,279.72 L630.30,278.98 L631.30,278.25 L632.30,277.51 L633.30,276.76 L634.30,276.02 L635.30,275.27 L636.30,274.52 L637.30,273.76 L638.30,273.00 L639.30,272.24 L640.30,271.48 L641.30,270.71 L642.30,269.94 L643.30,269.16 L644.30,268.39 L645.30,267.61 L646.30,266.82 L647.30,266.04 L648.30,265.25 L649.30,264.45 L650.30,263.66 L651.30,262.86 L652.30,262.06 L653.30,261.25 L654.30,260.45 L655.30,259.63 L656.30,258.82 L657.30,258.00 L658.30,257.18 L659.30,256.36 L660.30,255.53 L661.30,254.70 L662.30,253.87 L663.30,253.03 L664.30,252.19 L665.30,251.35 L666.30,250.50 L667.30,249.65 L668.30,248.80 L669.30,247.95 L670.30,247.09 L671.30,246.23 L672.30,245.36 L673.30,244.49 L674.30,243.62 L675.30,242.75 L676.30,241.87 L677.30,240.99 L678.30,240.11 L679.30,239.22 L680.30,238.33 L681.30,237.44 L682.30,236.54 L683.30,235.64 L684.30,234.74 L685.30,233.83 L686.30,232.92 L687.30,232.01 L688.30,231.09 L689.30,230.17 L690.30,229.25 L691.30,228.33 L692.30,227.40 L693.30,226.47 L694.30,225.53 L695.30,224.59 L696.30,223.65 L697.20,222.80 L715.20,222.80 L715.21,222.80 L715.07,223.80 L714.90,224.80 L714.70,225.80 L714.48,226.80 L714.24,227.80 L713.97,228.80 L713.68,229.80 L713.36,230.80 L713.02,231.80 L712.66,232.80 L712.27,233.80 L711.87,234.80 L711.44,235.80 L710.99,236.80 L710.52,237.80 L710.03,238.80 L709.52,239.80 L708.99,240.80 L708.44,241.80 L707.87,242.80 L707.29,243.80 L706.68,244.80 L706.06,245.80 L705.42,246.80 L704.77,247.80 L704.10,248.80 L703.41,249.80 L702.71,250.80 L701.99,251.80 L701.26,252.80 L700.51,253.80 L699.75,254.80 L698.98,255.80 L698.19,256.80 L697.39,257.80 L696.58,258.80 L695.76,259.80 L694.93,260.80 L694.08,261.80 L693.22,262.80 L692.36,263.80 L691.48,264.80 L690.60,265.80 L689.70,266.80 L688.80,267.80 L687.89,268.80 L686.97,269.80 L686.05,270.80 L685.11,271.80 L684.17,272.80 L683.23,273.80 L682.28,274.80 L681.32,275.80 L680.36,276.80 L679.39,277.80 L678.42,278.80 L677.45,279.80 L676.47,280.80 L675.49,281.80 L674.51,282.80 L673.52,283.80 L672.53,284.80 L671.54,285.80 L670.54,286.80 L669.54,287.80 L668.53,288.80 L667.51,289.80 L666.49,290.80 L665.46,291.80 L664.42,292.80 L663.38,293.80 L662.32,294.80 L661.26,295.80 L660.18,296.80 L659.10,297.80 L658.00,298.80 L656.89,299.80 L655.77,300.80 L654.64,301.80 L653.49,302.80 L652.33,303.80 L651.16,304.80 L649.97,305.80 L648.77,306.80 L647.55,307.80 L646.32,308.80 L645.06,309.80 L643.79,310.80 L642.50,311.80 L641.19,312.80 L639.86,313.80 L638.51,314.80 L637.13,315.80 L635.73,316.80 L634.29,317.80 L632.84,318.80 L631.35,319.80 L629.83,320.80 L628.28,321.80 L626.69,322.80 L625.08,323.80 L623.42,324.80 L621.73,325.80 L620.01,326.80 L618.24,327.80 L616.43,328.80 L614.58,329.80 L612.69,330.80 L610.75,331.80 L608.77,332.80 L606.74,333.80 L604.66,334.80 L602.53,335.80 L600.35,336.80 L598.13,337.80 L595.84,338.80 L593.51,339.80 L591.11,340.80 L588.66,341.80 L587.92,342.10" fill="none" stroke="#9e4454" stroke-width="0.9" stroke-linejoin="round"/>
<rect x="511.80" y="353.20" width="3" height="3" fill="#5a0f1a"/>
<text x="515.70" y="356.90" font-size="4.2" fill="#a0384a" textLength="19.00" lengthAdjust="spacingAndGlyphs">Indentation</text>
<text x="720.60" y="366.50" font-size="12.4" fill="#2a2a2a" textLength="30.40" lengthAdjust="spacingAndGlyphs" stroke="#2a2a2a" stroke-width="0.35">IOL D</text>
</svg>
</body></html>
